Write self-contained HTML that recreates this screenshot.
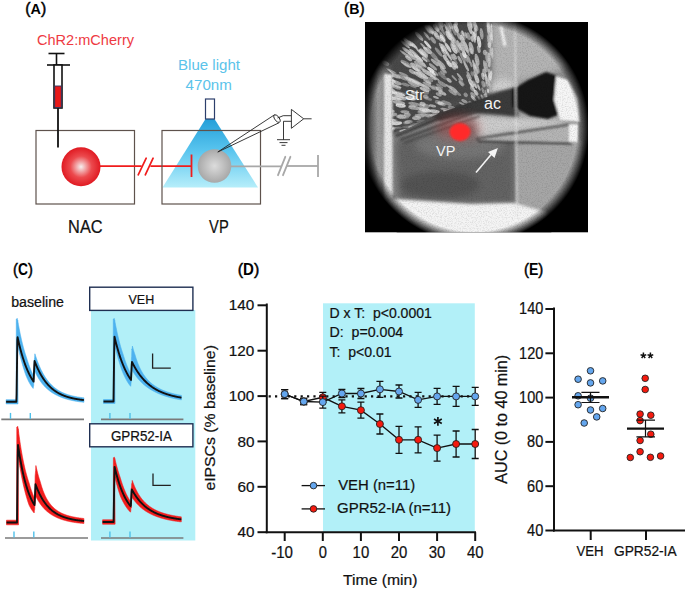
<!DOCTYPE html>
<html><head><meta charset="utf-8"><style>
html,body{margin:0;padding:0;background:#fff;}
body{width:685px;height:590px;overflow:hidden;}
svg{display:block;}
text{font-family:"Liberation Sans", sans-serif;}
</style></head><body>
<svg width="685" height="590" viewBox="0 0 685 590">
<defs>
<radialGradient id="gred" cx="50%" cy="50%" r="50%">
<stop offset="0" stop-color="#f6f0f0"/><stop offset="0.55" stop-color="#ec4a4e"/><stop offset="1" stop-color="#e01a22"/>
</radialGradient>
<radialGradient id="ggray" cx="50%" cy="50%" r="50%">
<stop offset="0" stop-color="#dcdcdc"/><stop offset="1" stop-color="#a8a8a8"/>
</radialGradient>
<linearGradient id="gcone" x1="0" y1="0" x2="0" y2="1">
<stop offset="0" stop-color="#249fd9"/><stop offset="0.45" stop-color="#58c4ee"/><stop offset="1" stop-color="#b6eefa"/>
</linearGradient>
</defs>
<rect width="685" height="590" fill="#fff"/>

<text x="25.3" y="14.2" font-size="15.5" font-weight="bold" textLength="21" lengthAdjust="spacingAndGlyphs"><tspan font-size="17" font-weight="normal" stroke="#000" stroke-width="0.5">(</tspan>A<tspan font-size="17" font-weight="normal" stroke="#000" stroke-width="0.5">)</tspan></text>
<text x="37" y="44.7" font-size="14.5" fill="#ee3a42" textLength="97" lengthAdjust="spacingAndGlyphs">ChR2:mCherry</text>
<g stroke="#111" stroke-width="1.6" fill="none"><line x1="48.5" y1="53.5" x2="64.5" y2="53.5"/><line x1="56.5" y1="53.5" x2="56.5" y2="65"/><line x1="47" y1="65" x2="70" y2="65"/><rect x="54" y="65" width="8" height="43" fill="#fff"/></g>
<rect x="54.7" y="86" width="6.6" height="21.5" fill="#e81818" stroke="#2c3560" stroke-width="0.9"/>
<rect x="36" y="130.5" width="98.5" height="73.5" fill="none" stroke="#5e524c" stroke-width="1.2"/>
<line x1="58" y1="108" x2="58" y2="147.5" stroke="#111" stroke-width="1.8"/>
<polygon points="205.5,119 214.5,119 258,187.5 162.5,187.5" fill="url(#gcone)"/>
<line x1="100" y1="166.2" x2="141.6" y2="166.2" stroke="#f01c1c" stroke-width="1.7"/>
<line x1="150.4" y1="166.2" x2="191.5" y2="166.2" stroke="#f01c1c" stroke-width="1.7"/>
<g stroke="#f01c1c" stroke-width="1.7" stroke-linecap="round"><line x1="138.2" y1="174.8" x2="146.2" y2="158.2"/><line x1="145.3" y1="174.8" x2="153.1" y2="158.2"/></g>
<circle cx="81" cy="166.8" r="19.5" fill="url(#gred)"/>
<text x="68.1" y="232.7" font-size="17.5" fill="#111" stroke="#111" stroke-width="0.22" textLength="34.5" lengthAdjust="spacingAndGlyphs">NAC</text>
<rect x="162" y="130.5" width="98.5" height="73.5" fill="none" stroke="#5e524c" stroke-width="1.2"/>
<rect x="205.5" y="99" width="9" height="20" fill="#fff" stroke="#2d3f6c" stroke-width="1.2"/>
<text x="178" y="69.8" font-size="15" fill="#5bc3ea" textLength="62" lengthAdjust="spacingAndGlyphs">Blue light</text>
<text x="185.6" y="90.1" font-size="15" fill="#5bc3ea" textLength="46.3" lengthAdjust="spacingAndGlyphs">470nm</text>
<line x1="191.5" y1="154.5" x2="191.5" y2="177" stroke="#f01c1c" stroke-width="1.8"/>
<line x1="214" y1="166.3" x2="281.5" y2="166.3" stroke="#a8a8a8" stroke-width="1.8"/>
<line x1="287" y1="166" x2="318" y2="166" stroke="#a8a8a8" stroke-width="1.8"/>
<g stroke="#a8a8a8" stroke-width="1.8" stroke-linecap="round"><line x1="278" y1="175.2" x2="285.3" y2="156.8"/><line x1="283" y1="175.2" x2="290.4" y2="156.8"/></g>
<line x1="318" y1="155" x2="318" y2="177" stroke="#a8a8a8" stroke-width="1.8"/>
<circle cx="214.5" cy="166" r="16.8" fill="url(#ggray)"/>
<g stroke="#222" stroke-width="0.9" fill="none"><polyline points="274.8,114.6 217.8,152 279.2,122.7"/><ellipse cx="277" cy="118.6" rx="2.2" ry="4.4" transform="rotate(-35 277 118.6)" fill="#fff"/><polyline points="277.5,118 283.2,115.7 291.4,115.7"/><polygon points="291.4,109.4 303.7,118.8 291.4,128.3" fill="#fff"/><line x1="303.7" y1="118.8" x2="311.6" y2="118.8"/><polyline points="291.4,121.3 283.5,121.3 283.5,139.7"/><line x1="277" y1="139.7" x2="290" y2="139.7"/><line x1="279.5" y1="142.6" x2="287.5" y2="142.6"/><line x1="281.5" y1="145.3" x2="285.5" y2="145.3"/></g>
<text x="209.1" y="232.7" font-size="17.5" fill="#111" stroke="#111" stroke-width="0.22" textLength="19.6" lengthAdjust="spacingAndGlyphs">VP</text>
<text x="344" y="14.2" font-size="15.5" font-weight="bold" textLength="20.6" lengthAdjust="spacingAndGlyphs"><tspan font-size="17" font-weight="normal" stroke="#000" stroke-width="0.5">(</tspan>B<tspan font-size="17" font-weight="normal" stroke="#000" stroke-width="0.5">)</tspan></text>
<defs>
<clipPath id="cB"><rect x="365" y="22" width="223" height="210.3"/></clipPath>
<clipPath id="cCirc"><circle cx="474" cy="128" r="115"/></clipPath>
<radialGradient id="vign" cx="474" cy="128" r="115" gradientUnits="userSpaceOnUse">
<stop offset="0.9" stop-color="#000" stop-opacity="0"/>
<stop offset="1" stop-color="#000" stop-opacity="1"/>
</radialGradient>
<linearGradient id="lfade" x1="365" y1="0" x2="378" y2="0" gradientUnits="userSpaceOnUse">
<stop offset="0" stop-color="#000" stop-opacity="0.75"/><stop offset="1" stop-color="#000" stop-opacity="0"/>
</linearGradient>
<linearGradient id="tfade" x1="0" y1="22" x2="0" y2="70" gradientUnits="userSpaceOnUse">
<stop offset="0" stop-color="#000" stop-opacity="0.5"/><stop offset="1" stop-color="#000" stop-opacity="0"/>
</linearGradient>
<filter id="bl1" x="-20%" y="-20%" width="140%" height="140%"><feGaussianBlur stdDeviation="1.0"/></filter>
<filter id="bl05" x="-20%" y="-20%" width="140%" height="140%"><feGaussianBlur stdDeviation="0.6"/></filter>
<filter id="bl2" x="-20%" y="-20%" width="140%" height="140%"><feGaussianBlur stdDeviation="1.8"/></filter>
<filter id="bl3" x="-20%" y="-20%" width="140%" height="140%"><feGaussianBlur stdDeviation="3.5"/></filter>
<filter id="bl6" x="-30%" y="-30%" width="160%" height="160%"><feGaussianBlur stdDeviation="6"/></filter>
<filter id="grain" x="0" y="0" width="100%" height="100%">
<feTurbulence type="fractalNoise" baseFrequency="0.8" numOctaves="2" seed="5"/>
<feColorMatrix type="matrix" values="0 0 0 0 0  0 0 0 0 0  0 0 0 0 0  0 0 0 -2.2 1.25"/>
</filter>
<clipPath id="cStr"><polygon points="366,22 492,22 494,62 490,96 440,113 398,133 392,135 392,74 380,62 366,62"/></clipPath>
</defs>
<rect x="365" y="22" width="223" height="210.3" fill="#000"/>
<g clip-path="url(#cB)">
<g clip-path="url(#cCirc)">
<rect x="355" y="10" width="240" height="230" fill="#8a8a8a"/>
<g filter="url(#bl3)">
<polygon points="360,10 492,10 494,62 488,96 440,113 398,133 360,142" fill="#484848"/>
<polygon points="490,10 560,10 580,60 556,72 518,82 492,96" fill="#b4b4b4"/>
<ellipse cx="503" cy="88" rx="14" ry="9" fill="#d0d0d0"/>
<polygon points="395,140 445,124 478,126 515,130 515,204 470,204 398,200" fill="#646464"/>
<ellipse cx="460" cy="145" rx="45" ry="14" fill="#767676"/>
<ellipse cx="440" cy="185" rx="40" ry="14" fill="#525252"/>
<rect x="360" y="64" width="26" height="146" fill="#9a9a9a"/>
<polygon points="474,114 515,116 560,118 572,124 480,138" fill="#cccccc"/>
</g>
<g filter="url(#bl2)">
<polygon points="430,114 474,99 500,91 516,87 518,117 500,115 474,113 440,121" fill="#3a3a3a"/>
<polygon points="516,145 582,140 582,215 546,212 533,208.6 516,204" fill="#a6a6a6"/>
<polygon points="380,198 470,204 513,203 533,208.6 546,212 570,240 380,240" fill="#f4f4f4"/>
</g>

<g clip-path="url(#cStr)"><g filter="url(#bl05)">
<ellipse cx="396.5" cy="87.3" rx="4.8" ry="1.7" transform="rotate(-162 396.5 87.3)" fill="rgb(183,183,183)" opacity="0.73"/>
<ellipse cx="443.5" cy="131.1" rx="4.1" ry="1.6" transform="rotate(165 443.5 131.1)" fill="rgb(235,235,235)" opacity="0.54"/>
<ellipse cx="435.2" cy="88.0" rx="4.1" ry="1.9" transform="rotate(-152 435.2 88.0)" fill="rgb(194,194,194)" opacity="0.55"/>
<ellipse cx="477.1" cy="84.8" rx="4.6" ry="1.7" transform="rotate(-114 477.1 84.8)" fill="rgb(180,180,180)" opacity="0.48"/>
<ellipse cx="476.8" cy="78.7" rx="4.7" ry="2.0" transform="rotate(-111 476.8 78.7)" fill="rgb(229,229,229)" opacity="0.77"/>
<ellipse cx="416.6" cy="118.1" rx="4.5" ry="2.0" transform="rotate(180 416.6 118.1)" fill="rgb(187,187,187)" opacity="0.85"/>
<ellipse cx="399.0" cy="102.6" rx="6.4" ry="1.9" transform="rotate(-171 399.0 102.6)" fill="rgb(224,224,224)" opacity="0.64"/>
<ellipse cx="439.5" cy="86.1" rx="4.1" ry="1.3" transform="rotate(-149 439.5 86.1)" fill="rgb(178,178,178)" opacity="0.60"/>
<ellipse cx="475.6" cy="140.9" rx="4.2" ry="1.2" transform="rotate(126 475.6 140.9)" fill="rgb(188,188,188)" opacity="0.84"/>
<ellipse cx="457.4" cy="47.3" rx="6.2" ry="1.6" transform="rotate(-116 457.4 47.3)" fill="rgb(183,183,183)" opacity="0.58"/>
<ellipse cx="427.7" cy="98.7" rx="4.5" ry="1.4" transform="rotate(-163 427.7 98.7)" fill="rgb(194,194,194)" opacity="0.48"/>
<ellipse cx="419.1" cy="36.3" rx="6.0" ry="1.8" transform="rotate(-132 419.1 36.3)" fill="rgb(217,217,217)" opacity="0.62"/>
<ellipse cx="436.5" cy="132.6" rx="3.5" ry="1.3" transform="rotate(165 436.5 132.6)" fill="rgb(175,175,175)" opacity="0.47"/>
<ellipse cx="375.9" cy="94.0" rx="3.5" ry="1.2" transform="rotate(-168 375.9 94.0)" fill="rgb(208,208,208)" opacity="0.63"/>
<ellipse cx="477.1" cy="59.7" rx="6.1" ry="2.0" transform="rotate(-104 477.1 59.7)" fill="rgb(233,233,233)" opacity="0.62"/>
<ellipse cx="477.3" cy="68.3" rx="5.5" ry="1.7" transform="rotate(-106 477.3 68.3)" fill="rgb(239,239,239)" opacity="0.50"/>
<ellipse cx="400.7" cy="98.1" rx="6.1" ry="2.0" transform="rotate(-168 400.7 98.1)" fill="rgb(208,208,208)" opacity="0.65"/>
<ellipse cx="432.7" cy="87.8" rx="2.7" ry="1.5" transform="rotate(-153 432.7 87.8)" fill="rgb(177,177,177)" opacity="0.71"/>
<ellipse cx="414.2" cy="92.7" rx="3.4" ry="1.7" transform="rotate(-162 414.2 92.7)" fill="rgb(220,220,220)" opacity="0.60"/>
<ellipse cx="452.9" cy="64.3" rx="5.3" ry="1.8" transform="rotate(-126 452.9 64.3)" fill="rgb(182,182,182)" opacity="0.46"/>
<ellipse cx="488.2" cy="24.6" rx="4.6" ry="1.7" transform="rotate(-92 488.2 24.6)" fill="rgb(215,215,215)" opacity="0.58"/>
<ellipse cx="463.0" cy="123.3" rx="3.0" ry="1.9" transform="rotate(170 463.0 123.3)" fill="rgb(178,178,178)" opacity="0.50"/>
<ellipse cx="490.3" cy="104.0" rx="2.3" ry="1.6" transform="rotate(-97 490.3 104.0)" fill="rgb(209,209,209)" opacity="0.74"/>
<ellipse cx="421.7" cy="105.8" rx="3.1" ry="1.4" transform="rotate(-170 421.7 105.8)" fill="rgb(203,203,203)" opacity="0.60"/>
<ellipse cx="422.1" cy="124.7" rx="3.4" ry="1.4" transform="rotate(175 422.1 124.7)" fill="rgb(232,232,232)" opacity="0.74"/>
<ellipse cx="400.6" cy="116.4" rx="3.2" ry="2.1" transform="rotate(-179 400.6 116.4)" fill="rgb(198,198,198)" opacity="0.59"/>
<ellipse cx="476.6" cy="62.8" rx="5.5" ry="1.1" transform="rotate(-106 476.6 62.8)" fill="rgb(191,191,191)" opacity="0.73"/>
<ellipse cx="419.9" cy="84.2" rx="6.3" ry="1.5" transform="rotate(-155 419.9 84.2)" fill="rgb(212,212,212)" opacity="0.74"/>
<ellipse cx="419.7" cy="71.1" rx="6.7" ry="1.2" transform="rotate(-147 419.7 71.1)" fill="rgb(240,240,240)" opacity="0.45"/>
<ellipse cx="421.6" cy="136.0" rx="6.3" ry="1.2" transform="rotate(166 421.6 136.0)" fill="rgb(211,211,211)" opacity="0.79"/>
<ellipse cx="435.6" cy="128.8" rx="5.6" ry="1.9" transform="rotate(169 435.6 128.8)" fill="rgb(190,190,190)" opacity="0.89"/>
<ellipse cx="469.7" cy="27.4" rx="6.9" ry="1.8" transform="rotate(-104 469.7 27.4)" fill="rgb(230,230,230)" opacity="0.87"/>
<ellipse cx="439.9" cy="23.6" rx="6.6" ry="1.2" transform="rotate(-119 439.9 23.6)" fill="rgb(177,177,177)" opacity="0.58"/>
<ellipse cx="433.2" cy="71.7" rx="6.5" ry="1.7" transform="rotate(-142 433.2 71.7)" fill="rgb(207,207,207)" opacity="0.60"/>
<ellipse cx="490.4" cy="86.9" rx="4.7" ry="1.1" transform="rotate(-93 490.4 86.9)" fill="rgb(190,190,190)" opacity="0.55"/>
<ellipse cx="434.4" cy="120.0" rx="3.2" ry="1.9" transform="rotate(178 434.4 120.0)" fill="rgb(191,191,191)" opacity="0.86"/>
<ellipse cx="471.4" cy="22.9" rx="5.8" ry="1.9" transform="rotate(-102 471.4 22.9)" fill="rgb(209,209,209)" opacity="0.47"/>
<ellipse cx="397.8" cy="96.2" rx="5.3" ry="1.1" transform="rotate(-167 397.8 96.2)" fill="rgb(175,175,175)" opacity="0.60"/>
<ellipse cx="475.7" cy="115.0" rx="2.1" ry="1.1" transform="rotate(-170 475.7 115.0)" fill="rgb(179,179,179)" opacity="0.67"/>
<ellipse cx="475.4" cy="32.3" rx="5.0" ry="1.3" transform="rotate(-101 475.4 32.3)" fill="rgb(219,219,219)" opacity="0.59"/>
<ellipse cx="415.4" cy="68.8" rx="4.3" ry="1.3" transform="rotate(-147 415.4 68.8)" fill="rgb(229,229,229)" opacity="0.89"/>
<ellipse cx="381.8" cy="88.7" rx="6.7" ry="1.4" transform="rotate(-165 381.8 88.7)" fill="rgb(197,197,197)" opacity="0.49"/>
<ellipse cx="449.2" cy="87.0" rx="4.7" ry="1.0" transform="rotate(-144 449.2 87.0)" fill="rgb(181,181,181)" opacity="0.85"/>
<ellipse cx="413.7" cy="81.5" rx="5.9" ry="1.5" transform="rotate(-155 413.7 81.5)" fill="rgb(233,233,233)" opacity="0.76"/>
<ellipse cx="400.6" cy="92.8" rx="6.5" ry="1.2" transform="rotate(-165 400.6 92.8)" fill="rgb(178,178,178)" opacity="0.51"/>
<ellipse cx="485.9" cy="66.9" rx="5.6" ry="1.9" transform="rotate(-97 485.9 66.9)" fill="rgb(234,234,234)" opacity="0.57"/>
<ellipse cx="454.4" cy="134.7" rx="4.7" ry="1.9" transform="rotate(156 454.4 134.7)" fill="rgb(223,223,223)" opacity="0.69"/>
<ellipse cx="451.4" cy="110.0" rx="4.2" ry="1.1" transform="rotate(-169 451.4 110.0)" fill="rgb(175,175,175)" opacity="0.71"/>
<ellipse cx="426.6" cy="50.3" rx="4.7" ry="1.6" transform="rotate(-134 426.6 50.3)" fill="rgb(223,223,223)" opacity="0.70"/>
<ellipse cx="473.7" cy="36.6" rx="6.3" ry="1.7" transform="rotate(-103 473.7 36.6)" fill="rgb(211,211,211)" opacity="0.83"/>
<ellipse cx="440.1" cy="117.8" rx="2.6" ry="1.8" transform="rotate(-180 440.1 117.8)" fill="rgb(205,205,205)" opacity="0.68"/>
<ellipse cx="379.7" cy="111.9" rx="7.6" ry="1.1" transform="rotate(-177 379.7 111.9)" fill="rgb(198,198,198)" opacity="0.60"/>
<ellipse cx="472.0" cy="51.1" rx="3.4" ry="1.3" transform="rotate(-107 472.0 51.1)" fill="rgb(225,225,225)" opacity="0.73"/>
<ellipse cx="398.4" cy="93.9" rx="7.2" ry="1.6" transform="rotate(-166 398.4 93.9)" fill="rgb(223,223,223)" opacity="0.88"/>
<ellipse cx="430.0" cy="138.8" rx="4.2" ry="1.8" transform="rotate(161 430.0 138.8)" fill="rgb(236,236,236)" opacity="0.52"/>
<ellipse cx="386.0" cy="70.1" rx="7.5" ry="1.2" transform="rotate(-156 386.0 70.1)" fill="rgb(236,236,236)" opacity="0.67"/>
<ellipse cx="483.3" cy="84.1" rx="3.6" ry="1.8" transform="rotate(-104 483.3 84.1)" fill="rgb(209,209,209)" opacity="0.53"/>
<ellipse cx="462.3" cy="39.6" rx="5.0" ry="2.0" transform="rotate(-111 462.3 39.6)" fill="rgb(212,212,212)" opacity="0.83"/>
<ellipse cx="451.9" cy="124.6" rx="4.2" ry="1.6" transform="rotate(171 451.9 124.6)" fill="rgb(202,202,202)" opacity="0.89"/>
<ellipse cx="405.3" cy="54.2" rx="6.9" ry="1.2" transform="rotate(-144 405.3 54.2)" fill="rgb(205,205,205)" opacity="0.71"/>
<ellipse cx="407.2" cy="114.9" rx="3.5" ry="2.1" transform="rotate(-178 407.2 114.9)" fill="rgb(201,201,201)" opacity="0.67"/>
<ellipse cx="425.9" cy="122.2" rx="5.7" ry="1.6" transform="rotate(176 425.9 122.2)" fill="rgb(184,184,184)" opacity="0.67"/>
<ellipse cx="475.7" cy="70.0" rx="5.0" ry="2.1" transform="rotate(-109 475.7 70.0)" fill="rgb(204,204,204)" opacity="0.66"/>
<ellipse cx="480.0" cy="99.8" rx="4.3" ry="1.1" transform="rotate(-123 480.0 99.8)" fill="rgb(207,207,207)" opacity="0.55"/>
<ellipse cx="456.2" cy="125.0" rx="5.1" ry="1.3" transform="rotate(169 456.2 125.0)" fill="rgb(215,215,215)" opacity="0.84"/>
<ellipse cx="468.3" cy="36.2" rx="4.0" ry="2.0" transform="rotate(-106 468.3 36.2)" fill="rgb(232,232,232)" opacity="0.47"/>
<ellipse cx="440.3" cy="103.1" rx="2.5" ry="1.4" transform="rotate(-164 440.3 103.1)" fill="rgb(237,237,237)" opacity="0.65"/>
<ellipse cx="376.0" cy="99.3" rx="6.9" ry="1.5" transform="rotate(-171 376.0 99.3)" fill="rgb(215,215,215)" opacity="0.51"/>
<ellipse cx="451.2" cy="35.5" rx="6.8" ry="2.0" transform="rotate(-116 451.2 35.5)" fill="rgb(222,222,222)" opacity="0.49"/>
<ellipse cx="452.8" cy="66.2" rx="4.3" ry="1.7" transform="rotate(-127 452.8 66.2)" fill="rgb(208,208,208)" opacity="0.75"/>
<ellipse cx="379.7" cy="135.3" rx="4.9" ry="1.6" transform="rotate(171 379.7 135.3)" fill="rgb(238,238,238)" opacity="0.69"/>
<ellipse cx="431.1" cy="29.1" rx="4.6" ry="1.8" transform="rotate(-124 431.1 29.1)" fill="rgb(194,194,194)" opacity="0.78"/>
<ellipse cx="388.9" cy="128.8" rx="6.1" ry="1.1" transform="rotate(174 388.9 128.8)" fill="rgb(193,193,193)" opacity="0.87"/>
<ellipse cx="483.9" cy="99.4" rx="3.9" ry="1.5" transform="rotate(-114 483.9 99.4)" fill="rgb(198,198,198)" opacity="0.59"/>
<ellipse cx="424.6" cy="59.5" rx="3.7" ry="1.1" transform="rotate(-139 424.6 59.5)" fill="rgb(225,225,225)" opacity="0.77"/>
<ellipse cx="412.0" cy="53.9" rx="4.9" ry="2.0" transform="rotate(-141 412.0 53.9)" fill="rgb(239,239,239)" opacity="0.47"/>
<ellipse cx="400.7" cy="105.5" rx="5.2" ry="2.0" transform="rotate(-172 400.7 105.5)" fill="rgb(232,232,232)" opacity="0.88"/>
<ellipse cx="435.3" cy="114.6" rx="3.8" ry="1.9" transform="rotate(-177 435.3 114.6)" fill="rgb(209,209,209)" opacity="0.50"/>
<ellipse cx="441.5" cy="103.8" rx="4.4" ry="2.0" transform="rotate(-164 441.5 103.8)" fill="rgb(199,199,199)" opacity="0.50"/>
<ellipse cx="438.6" cy="102.4" rx="3.9" ry="2.1" transform="rotate(-164 438.6 102.4)" fill="rgb(193,193,193)" opacity="0.51"/>
<ellipse cx="476.0" cy="117.8" rx="3.5" ry="1.2" transform="rotate(-179 476.0 117.8)" fill="rgb(207,207,207)" opacity="0.53"/>
<ellipse cx="413.3" cy="57.2" rx="6.8" ry="1.5" transform="rotate(-142 413.3 57.2)" fill="rgb(224,224,224)" opacity="0.63"/>
<ellipse cx="406.4" cy="130.7" rx="4.2" ry="1.5" transform="rotate(172 406.4 130.7)" fill="rgb(213,213,213)" opacity="0.69"/>
<ellipse cx="480.6" cy="102.1" rx="2.1" ry="1.2" transform="rotate(-126 480.6 102.1)" fill="rgb(188,188,188)" opacity="0.74"/>
<ellipse cx="464.6" cy="101.4" rx="3.7" ry="1.6" transform="rotate(-149 464.6 101.4)" fill="rgb(199,199,199)" opacity="0.66"/>
<ellipse cx="466.1" cy="47.4" rx="6.0" ry="2.0" transform="rotate(-110 466.1 47.4)" fill="rgb(189,189,189)" opacity="0.88"/>
<ellipse cx="438.4" cy="137.1" rx="5.7" ry="1.1" transform="rotate(160 438.4 137.1)" fill="rgb(181,181,181)" opacity="0.81"/>
<ellipse cx="369.3" cy="96.2" rx="5.9" ry="1.5" transform="rotate(-170 369.3 96.2)" fill="rgb(218,218,218)" opacity="0.46"/>
<ellipse cx="407.4" cy="126.5" rx="5.8" ry="1.1" transform="rotate(174 407.4 126.5)" fill="rgb(179,179,179)" opacity="0.84"/>
<ellipse cx="457.6" cy="110.8" rx="3.3" ry="1.9" transform="rotate(-168 457.6 110.8)" fill="rgb(200,200,200)" opacity="0.87"/>
<ellipse cx="421.9" cy="112.8" rx="4.6" ry="1.1" transform="rotate(-176 421.9 112.8)" fill="rgb(184,184,184)" opacity="0.47"/>
<ellipse cx="474.2" cy="106.7" rx="3.2" ry="1.5" transform="rotate(-148 474.2 106.7)" fill="rgb(229,229,229)" opacity="0.48"/>
<ellipse cx="392.7" cy="80.7" rx="3.3" ry="1.5" transform="rotate(-159 392.7 80.7)" fill="rgb(231,231,231)" opacity="0.76"/>
<ellipse cx="389.1" cy="129.9" rx="6.4" ry="1.4" transform="rotate(173 389.1 129.9)" fill="rgb(221,221,221)" opacity="0.62"/>
<ellipse cx="442.3" cy="48.9" rx="2.9" ry="1.2" transform="rotate(-126 442.3 48.9)" fill="rgb(193,193,193)" opacity="0.80"/>
<ellipse cx="475.5" cy="86.1" rx="2.8" ry="1.0" transform="rotate(-117 475.5 86.1)" fill="rgb(239,239,239)" opacity="0.71"/>
<ellipse cx="428.8" cy="29.2" rx="3.4" ry="1.5" transform="rotate(-125 428.8 29.2)" fill="rgb(181,181,181)" opacity="0.63"/>
<ellipse cx="429.1" cy="131.1" rx="5.9" ry="1.3" transform="rotate(168 429.1 131.1)" fill="rgb(199,199,199)" opacity="0.63"/>
<ellipse cx="387.1" cy="96.7" rx="4.8" ry="1.1" transform="rotate(-169 387.1 96.7)" fill="rgb(212,212,212)" opacity="0.47"/>
<ellipse cx="401.2" cy="116.5" rx="5.0" ry="2.0" transform="rotate(-179 401.2 116.5)" fill="rgb(206,206,206)" opacity="0.59"/>
<ellipse cx="437.8" cy="25.6" rx="4.8" ry="2.1" transform="rotate(-120 437.8 25.6)" fill="rgb(182,182,182)" opacity="0.59"/>
<ellipse cx="453.3" cy="138.3" rx="4.3" ry="1.0" transform="rotate(152 453.3 138.3)" fill="rgb(186,186,186)" opacity="0.46"/>
<ellipse cx="427.7" cy="44.7" rx="5.3" ry="1.4" transform="rotate(-131 427.7 44.7)" fill="rgb(236,236,236)" opacity="0.85"/>
<ellipse cx="409.5" cy="79.4" rx="4.5" ry="1.7" transform="rotate(-155 409.5 79.4)" fill="rgb(225,225,225)" opacity="0.62"/>
<ellipse cx="474.8" cy="35.8" rx="4.5" ry="1.4" transform="rotate(-102 474.8 35.8)" fill="rgb(226,226,226)" opacity="0.76"/>
<ellipse cx="388.4" cy="110.8" rx="6.5" ry="1.9" transform="rotate(-176 388.4 110.8)" fill="rgb(198,198,198)" opacity="0.70"/>
<ellipse cx="412.4" cy="71.8" rx="4.0" ry="1.9" transform="rotate(-150 412.4 71.8)" fill="rgb(209,209,209)" opacity="0.67"/>
<ellipse cx="471.1" cy="82.8" rx="4.8" ry="2.0" transform="rotate(-121 471.1 82.8)" fill="rgb(237,237,237)" opacity="0.76"/>
<ellipse cx="462.2" cy="120.7" rx="2.4" ry="1.8" transform="rotate(175 462.2 120.7)" fill="rgb(215,215,215)" opacity="0.75"/>
<ellipse cx="396.4" cy="123.2" rx="5.9" ry="2.0" transform="rotate(177 396.4 123.2)" fill="rgb(232,232,232)" opacity="0.84"/>
<ellipse cx="425.7" cy="126.3" rx="5.1" ry="2.1" transform="rotate(173 425.7 126.3)" fill="rgb(199,199,199)" opacity="0.45"/>
<ellipse cx="417.1" cy="136.7" rx="3.2" ry="1.6" transform="rotate(166 417.1 136.7)" fill="rgb(185,185,185)" opacity="0.50"/>
<ellipse cx="471.2" cy="47.2" rx="5.4" ry="2.1" transform="rotate(-106 471.2 47.2)" fill="rgb(193,193,193)" opacity="0.87"/>
<ellipse cx="441.0" cy="23.4" rx="4.3" ry="2.1" transform="rotate(-118 441.0 23.4)" fill="rgb(240,240,240)" opacity="0.55"/>
<ellipse cx="419.7" cy="115.7" rx="5.1" ry="1.9" transform="rotate(-178 419.7 115.7)" fill="rgb(199,199,199)" opacity="0.69"/>
<ellipse cx="425.8" cy="96.7" rx="2.9" ry="1.9" transform="rotate(-162 425.8 96.7)" fill="rgb(187,187,187)" opacity="0.72"/>
<ellipse cx="391.5" cy="129.2" rx="3.5" ry="1.5" transform="rotate(174 391.5 129.2)" fill="rgb(188,188,188)" opacity="0.55"/>
<ellipse cx="448.2" cy="113.4" rx="5.2" ry="1.4" transform="rotate(-174 448.2 113.4)" fill="rgb(232,232,232)" opacity="0.72"/>
<ellipse cx="465.6" cy="57.0" rx="6.2" ry="1.5" transform="rotate(-113 465.6 57.0)" fill="rgb(189,189,189)" opacity="0.62"/>
<ellipse cx="435.0" cy="77.7" rx="5.5" ry="1.1" transform="rotate(-145 435.0 77.7)" fill="rgb(237,237,237)" opacity="0.61"/>
<ellipse cx="462.5" cy="132.9" rx="4.3" ry="1.4" transform="rotate(153 462.5 132.9)" fill="rgb(183,183,183)" opacity="0.80"/>
<ellipse cx="443.6" cy="47.7" rx="4.4" ry="2.1" transform="rotate(-125 443.6 47.7)" fill="rgb(230,230,230)" opacity="0.60"/>
<ellipse cx="422.2" cy="52.1" rx="4.5" ry="1.8" transform="rotate(-137 422.2 52.1)" fill="rgb(202,202,202)" opacity="0.54"/>
<ellipse cx="478.0" cy="140.4" rx="3.9" ry="2.0" transform="rotate(122 478.0 140.4)" fill="rgb(228,228,228)" opacity="0.69"/>
<ellipse cx="413.1" cy="44.9" rx="6.1" ry="1.5" transform="rotate(-137 413.1 44.9)" fill="rgb(227,227,227)" opacity="0.85"/>
<ellipse cx="426.1" cy="92.5" rx="2.9" ry="2.1" transform="rotate(-159 426.1 92.5)" fill="rgb(187,187,187)" opacity="0.46"/>
<ellipse cx="430.5" cy="29.4" rx="5.4" ry="1.2" transform="rotate(-125 430.5 29.4)" fill="rgb(237,237,237)" opacity="0.54"/>
<ellipse cx="421.3" cy="63.4" rx="6.1" ry="1.8" transform="rotate(-142 421.3 63.4)" fill="rgb(188,188,188)" opacity="0.58"/>
<ellipse cx="422.8" cy="131.0" rx="4.4" ry="1.2" transform="rotate(169 422.8 131.0)" fill="rgb(211,211,211)" opacity="0.67"/>
<ellipse cx="491.0" cy="139.6" rx="4.6" ry="1.4" transform="rotate(93 491.0 139.6)" fill="rgb(214,214,214)" opacity="0.52"/>
<ellipse cx="486.3" cy="78.9" rx="5.5" ry="1.2" transform="rotate(-98 486.3 78.9)" fill="rgb(211,211,211)" opacity="0.88"/>
<ellipse cx="402.5" cy="77.6" rx="7.0" ry="1.9" transform="rotate(-156 402.5 77.6)" fill="rgb(206,206,206)" opacity="0.58"/>
<ellipse cx="485.1" cy="84.3" rx="2.3" ry="1.7" transform="rotate(-102 485.1 84.3)" fill="rgb(177,177,177)" opacity="0.52"/>
<ellipse cx="392.1" cy="114.4" rx="5.2" ry="2.1" transform="rotate(-178 392.1 114.4)" fill="rgb(179,179,179)" opacity="0.80"/>
<ellipse cx="428.7" cy="50.6" rx="4.2" ry="2.0" transform="rotate(-133 428.7 50.6)" fill="rgb(187,187,187)" opacity="0.83"/>
<ellipse cx="423.6" cy="53.4" rx="5.9" ry="1.5" transform="rotate(-137 423.6 53.4)" fill="rgb(218,218,218)" opacity="0.78"/>
<ellipse cx="446.3" cy="103.0" rx="5.5" ry="1.9" transform="rotate(-162 446.3 103.0)" fill="rgb(192,192,192)" opacity="0.56"/>
<ellipse cx="461.2" cy="123.0" rx="3.4" ry="1.8" transform="rotate(171 461.2 123.0)" fill="rgb(192,192,192)" opacity="0.60"/>
<ellipse cx="368.2" cy="99.2" rx="7.9" ry="2.0" transform="rotate(-171 368.2 99.2)" fill="rgb(240,240,240)" opacity="0.66"/>
<ellipse cx="419.0" cy="84.2" rx="3.6" ry="1.2" transform="rotate(-155 419.0 84.2)" fill="rgb(188,188,188)" opacity="0.76"/>
<ellipse cx="418.2" cy="64.2" rx="4.9" ry="1.9" transform="rotate(-144 418.2 64.2)" fill="rgb(194,194,194)" opacity="0.65"/>
<ellipse cx="439.9" cy="38.8" rx="3.2" ry="1.5" transform="rotate(-123 439.9 38.8)" fill="rgb(233,233,233)" opacity="0.55"/>
<ellipse cx="485.2" cy="95.5" rx="2.2" ry="1.6" transform="rotate(-107 485.2 95.5)" fill="rgb(237,237,237)" opacity="0.70"/>
<ellipse cx="382.0" cy="116.3" rx="6.7" ry="1.3" transform="rotate(-179 382.0 116.3)" fill="rgb(184,184,184)" opacity="0.65"/>
<ellipse cx="413.5" cy="83.8" rx="6.6" ry="2.1" transform="rotate(-156 413.5 83.8)" fill="rgb(199,199,199)" opacity="0.74"/>
<ellipse cx="405.9" cy="63.5" rx="6.1" ry="2.0" transform="rotate(-148 405.9 63.5)" fill="rgb(181,181,181)" opacity="0.63"/>
<ellipse cx="400.7" cy="136.0" rx="7.1" ry="1.3" transform="rotate(169 400.7 136.0)" fill="rgb(211,211,211)" opacity="0.63"/>
<ellipse cx="418.9" cy="129.9" rx="4.7" ry="2.1" transform="rotate(171 418.9 129.9)" fill="rgb(189,189,189)" opacity="0.78"/>
<ellipse cx="461.1" cy="122.6" rx="4.1" ry="1.9" transform="rotate(172 461.1 122.6)" fill="rgb(211,211,211)" opacity="0.45"/>
<ellipse cx="490.7" cy="105.0" rx="3.1" ry="2.1" transform="rotate(-96 490.7 105.0)" fill="rgb(212,212,212)" opacity="0.66"/>
<ellipse cx="435.9" cy="27.7" rx="4.3" ry="2.1" transform="rotate(-122 435.9 27.7)" fill="rgb(197,197,197)" opacity="0.51"/>
<ellipse cx="454.3" cy="78.1" rx="3.9" ry="1.0" transform="rotate(-133 454.3 78.1)" fill="rgb(198,198,198)" opacity="0.63"/>
<ellipse cx="463.2" cy="43.1" rx="3.6" ry="1.9" transform="rotate(-111 463.2 43.1)" fill="rgb(181,181,181)" opacity="0.84"/>
<ellipse cx="433.1" cy="40.2" rx="4.0" ry="1.9" transform="rotate(-127 433.1 40.2)" fill="rgb(198,198,198)" opacity="0.64"/>
<ellipse cx="492.4" cy="55.7" rx="3.1" ry="1.2" transform="rotate(-90 492.4 55.7)" fill="rgb(220,220,220)" opacity="0.51"/>
<ellipse cx="486.1" cy="94.4" rx="4.8" ry="1.0" transform="rotate(-104 486.1 94.4)" fill="rgb(193,193,193)" opacity="0.62"/>
<ellipse cx="491.4" cy="51.5" rx="4.0" ry="2.0" transform="rotate(-90 491.4 51.5)" fill="rgb(215,215,215)" opacity="0.67"/>
<ellipse cx="426.5" cy="110.7" rx="4.6" ry="1.9" transform="rotate(-174 426.5 110.7)" fill="rgb(227,227,227)" opacity="0.65"/>
<ellipse cx="425.4" cy="86.6" rx="4.5" ry="1.6" transform="rotate(-155 425.4 86.6)" fill="rgb(200,200,200)" opacity="0.82"/>
<ellipse cx="462.8" cy="57.5" rx="5.5" ry="1.8" transform="rotate(-116 462.8 57.5)" fill="rgb(196,196,196)" opacity="0.59"/>
<ellipse cx="406.6" cy="122.8" rx="3.5" ry="1.7" transform="rotate(177 406.6 122.8)" fill="rgb(197,197,197)" opacity="0.48"/>
<ellipse cx="477.3" cy="117.3" rx="4.7" ry="1.8" transform="rotate(-177 477.3 117.3)" fill="rgb(210,210,210)" opacity="0.69"/>
<ellipse cx="377.8" cy="86.8" rx="5.5" ry="1.2" transform="rotate(-165 377.8 86.8)" fill="rgb(216,216,216)" opacity="0.72"/>
<ellipse cx="424.4" cy="89.6" rx="5.2" ry="1.7" transform="rotate(-157 424.4 89.6)" fill="rgb(219,219,219)" opacity="0.77"/>
<ellipse cx="476.4" cy="122.2" rx="2.8" ry="2.1" transform="rotate(165 476.4 122.2)" fill="rgb(190,190,190)" opacity="0.57"/>
<ellipse cx="443.1" cy="48.6" rx="7.0" ry="1.8" transform="rotate(-125 443.1 48.6)" fill="rgb(230,230,230)" opacity="0.56"/>
<ellipse cx="489.8" cy="76.3" rx="3.9" ry="1.6" transform="rotate(-93 489.8 76.3)" fill="rgb(231,231,231)" opacity="0.84"/>
<ellipse cx="493.3" cy="28.2" rx="4.7" ry="1.6" transform="rotate(-89 493.3 28.2)" fill="rgb(212,212,212)" opacity="0.72"/>
<ellipse cx="373.6" cy="124.5" rx="5.2" ry="2.1" transform="rotate(177 373.6 124.5)" fill="rgb(202,202,202)" opacity="0.61"/>
<ellipse cx="381.1" cy="109.9" rx="5.1" ry="1.6" transform="rotate(-176 381.1 109.9)" fill="rgb(222,222,222)" opacity="0.46"/>
<ellipse cx="430.7" cy="69.9" rx="4.3" ry="1.7" transform="rotate(-142 430.7 69.9)" fill="rgb(238,238,238)" opacity="0.84"/>
<ellipse cx="413.5" cy="95.8" rx="3.4" ry="1.1" transform="rotate(-164 413.5 95.8)" fill="rgb(211,211,211)" opacity="0.59"/>
<ellipse cx="459.9" cy="59.7" rx="4.3" ry="1.4" transform="rotate(-119 459.9 59.7)" fill="rgb(202,202,202)" opacity="0.77"/>
<ellipse cx="422.5" cy="103.9" rx="3.2" ry="2.0" transform="rotate(-169 422.5 103.9)" fill="rgb(235,235,235)" opacity="0.62"/>
<ellipse cx="436.7" cy="36.1" rx="3.9" ry="2.0" transform="rotate(-124 436.7 36.1)" fill="rgb(219,219,219)" opacity="0.64"/>
<ellipse cx="415.0" cy="80.8" rx="7.0" ry="1.5" transform="rotate(-154 415.0 80.8)" fill="rgb(201,201,201)" opacity="0.51"/>
<ellipse cx="431.5" cy="73.9" rx="5.2" ry="1.7" transform="rotate(-144 431.5 73.9)" fill="rgb(187,187,187)" opacity="0.65"/>
<ellipse cx="448.0" cy="111.5" rx="5.3" ry="1.1" transform="rotate(-172 448.0 111.5)" fill="rgb(216,216,216)" opacity="0.84"/>
<ellipse cx="427.4" cy="72.7" rx="6.4" ry="1.9" transform="rotate(-145 427.4 72.7)" fill="rgb(228,228,228)" opacity="0.60"/>
<ellipse cx="478.8" cy="49.1" rx="4.0" ry="1.7" transform="rotate(-101 478.8 49.1)" fill="rgb(181,181,181)" opacity="0.88"/>
<ellipse cx="448.1" cy="25.2" rx="7.3" ry="1.6" transform="rotate(-115 448.1 25.2)" fill="rgb(185,185,185)" opacity="0.71"/>
<ellipse cx="389.0" cy="120.5" rx="6.9" ry="2.0" transform="rotate(179 389.0 120.5)" fill="rgb(219,219,219)" opacity="0.63"/>
<ellipse cx="491.7" cy="101.4" rx="3.4" ry="1.2" transform="rotate(-91 491.7 101.4)" fill="rgb(192,192,192)" opacity="0.58"/>
<ellipse cx="440.5" cy="65.7" rx="4.8" ry="1.3" transform="rotate(-135 440.5 65.7)" fill="rgb(201,201,201)" opacity="0.84"/>
<ellipse cx="423.2" cy="108.6" rx="6.0" ry="1.7" transform="rotate(-172 423.2 108.6)" fill="rgb(202,202,202)" opacity="0.67"/>
<ellipse cx="424.5" cy="133.4" rx="4.6" ry="1.9" transform="rotate(167 424.5 133.4)" fill="rgb(179,179,179)" opacity="0.59"/>
<ellipse cx="407.9" cy="51.6" rx="7.2" ry="1.7" transform="rotate(-142 407.9 51.6)" fill="rgb(205,205,205)" opacity="0.78"/>
<ellipse cx="417.4" cy="68.7" rx="3.7" ry="1.3" transform="rotate(-147 417.4 68.7)" fill="rgb(218,218,218)" opacity="0.57"/>
<ellipse cx="459.7" cy="46.9" rx="4.0" ry="1.2" transform="rotate(-114 459.7 46.9)" fill="rgb(236,236,236)" opacity="0.53"/>
<ellipse cx="455.6" cy="47.9" rx="5.5" ry="1.7" transform="rotate(-117 455.6 47.9)" fill="rgb(225,225,225)" opacity="0.53"/>
<ellipse cx="442.6" cy="72.9" rx="3.3" ry="1.3" transform="rotate(-138 442.6 72.9)" fill="rgb(185,185,185)" opacity="0.62"/>
<ellipse cx="466.7" cy="125.2" rx="3.6" ry="1.6" transform="rotate(164 466.7 125.2)" fill="rgb(228,228,228)" opacity="0.57"/>
<ellipse cx="453.8" cy="48.6" rx="6.1" ry="2.1" transform="rotate(-119 453.8 48.6)" fill="rgb(236,236,236)" opacity="0.61"/>
<ellipse cx="463.0" cy="35.8" rx="4.7" ry="2.0" transform="rotate(-109 463.0 35.8)" fill="rgb(216,216,216)" opacity="0.51"/>
<ellipse cx="379.8" cy="85.4" rx="7.4" ry="1.5" transform="rotate(-164 379.8 85.4)" fill="rgb(232,232,232)" opacity="0.69"/>
<ellipse cx="410.5" cy="98.2" rx="5.5" ry="1.8" transform="rotate(-166 410.5 98.2)" fill="rgb(213,213,213)" opacity="0.89"/>
<ellipse cx="440.8" cy="103.4" rx="3.5" ry="1.4" transform="rotate(-164 440.8 103.4)" fill="rgb(212,212,212)" opacity="0.63"/>
<ellipse cx="484.2" cy="72.8" rx="4.3" ry="1.8" transform="rotate(-100 484.2 72.8)" fill="rgb(222,222,222)" opacity="0.64"/>
<ellipse cx="438.6" cy="52.0" rx="5.8" ry="1.6" transform="rotate(-129 438.6 52.0)" fill="rgb(189,189,189)" opacity="0.62"/>
<ellipse cx="407.5" cy="41.5" rx="7.6" ry="1.5" transform="rotate(-138 407.5 41.5)" fill="rgb(234,234,234)" opacity="0.69"/>
<ellipse cx="391.1" cy="71.0" rx="6.0" ry="1.1" transform="rotate(-155 391.1 71.0)" fill="rgb(236,236,236)" opacity="0.47"/>
<ellipse cx="455.8" cy="41.9" rx="5.6" ry="1.1" transform="rotate(-115 455.8 41.9)" fill="rgb(190,190,190)" opacity="0.70"/>
<ellipse cx="484.2" cy="126.2" rx="3.3" ry="1.4" transform="rotate(134 484.2 126.2)" fill="rgb(210,210,210)" opacity="0.48"/>
<ellipse cx="453.6" cy="49.7" rx="3.9" ry="1.2" transform="rotate(-119 453.6 49.7)" fill="rgb(222,222,222)" opacity="0.50"/>
<ellipse cx="421.6" cy="53.5" rx="7.2" ry="1.2" transform="rotate(-138 421.6 53.5)" fill="rgb(240,240,240)" opacity="0.71"/>
<ellipse cx="487.3" cy="102.0" rx="2.7" ry="1.3" transform="rotate(-107 487.3 102.0)" fill="rgb(218,218,218)" opacity="0.61"/>
<ellipse cx="481.6" cy="33.8" rx="5.8" ry="1.8" transform="rotate(-97 481.6 33.8)" fill="rgb(233,233,233)" opacity="0.55"/>
<ellipse cx="472.0" cy="39.0" rx="3.1" ry="1.5" transform="rotate(-104 472.0 39.0)" fill="rgb(192,192,192)" opacity="0.90"/>
<ellipse cx="413.7" cy="126.4" rx="5.8" ry="1.6" transform="rotate(174 413.7 126.4)" fill="rgb(229,229,229)" opacity="0.76"/>
<ellipse cx="491.2" cy="73.6" rx="3.3" ry="1.3" transform="rotate(-91 491.2 73.6)" fill="rgb(194,194,194)" opacity="0.86"/>
<ellipse cx="448.0" cy="47.4" rx="6.0" ry="1.6" transform="rotate(-122 448.0 47.4)" fill="rgb(222,222,222)" opacity="0.88"/>
<ellipse cx="398.9" cy="97.4" rx="5.5" ry="2.1" transform="rotate(-168 398.9 97.4)" fill="rgb(190,190,190)" opacity="0.61"/>
<ellipse cx="386.3" cy="139.7" rx="6.6" ry="1.5" transform="rotate(168 386.3 139.7)" fill="rgb(194,194,194)" opacity="0.78"/>
<ellipse cx="470.3" cy="109.7" rx="2.8" ry="1.1" transform="rotate(-159 470.3 109.7)" fill="rgb(192,192,192)" opacity="0.49"/>
<ellipse cx="378.2" cy="105.7" rx="6.3" ry="1.6" transform="rotate(-174 378.2 105.7)" fill="rgb(231,231,231)" opacity="0.77"/>
<ellipse cx="399.7" cy="106.1" rx="3.1" ry="1.3" transform="rotate(-173 399.7 106.1)" fill="rgb(196,196,196)" opacity="0.76"/>
<ellipse cx="459.0" cy="122.1" rx="3.3" ry="1.0" transform="rotate(173 459.0 122.1)" fill="rgb(176,176,176)" opacity="0.55"/>
<ellipse cx="469.1" cy="75.4" rx="4.7" ry="1.4" transform="rotate(-118 469.1 75.4)" fill="rgb(232,232,232)" opacity="0.55"/>
<ellipse cx="416.2" cy="69.5" rx="7.1" ry="1.1" transform="rotate(-147 416.2 69.5)" fill="rgb(206,206,206)" opacity="0.75"/>
<ellipse cx="391.1" cy="90.3" rx="4.4" ry="1.8" transform="rotate(-165 391.1 90.3)" fill="rgb(201,201,201)" opacity="0.72"/>
<ellipse cx="432.8" cy="73.2" rx="4.0" ry="1.1" transform="rotate(-143 432.8 73.2)" fill="rgb(239,239,239)" opacity="0.81"/>
<ellipse cx="433.9" cy="56.1" rx="6.8" ry="2.0" transform="rotate(-133 433.9 56.1)" fill="rgb(191,191,191)" opacity="0.52"/>
<ellipse cx="405.5" cy="84.6" rx="4.0" ry="1.6" transform="rotate(-159 405.5 84.6)" fill="rgb(184,184,184)" opacity="0.58"/>
<ellipse cx="429.9" cy="79.6" rx="3.7" ry="2.0" transform="rotate(-148 429.9 79.6)" fill="rgb(176,176,176)" opacity="0.64"/>
<ellipse cx="368.9" cy="96.6" rx="3.8" ry="1.6" transform="rotate(-170 368.9 96.6)" fill="rgb(176,176,176)" opacity="0.67"/>
<ellipse cx="372.1" cy="103.0" rx="4.9" ry="1.5" transform="rotate(-173 372.1 103.0)" fill="rgb(214,214,214)" opacity="0.59"/>
<ellipse cx="468.6" cy="59.1" rx="4.7" ry="1.4" transform="rotate(-112 468.6 59.1)" fill="rgb(189,189,189)" opacity="0.74"/>
<ellipse cx="489.4" cy="45.0" rx="3.1" ry="1.8" transform="rotate(-92 489.4 45.0)" fill="rgb(240,240,240)" opacity="0.69"/>
<ellipse cx="489.1" cy="58.1" rx="5.7" ry="1.6" transform="rotate(-93 489.1 58.1)" fill="rgb(221,221,221)" opacity="0.67"/>
<ellipse cx="452.6" cy="133.1" rx="3.7" ry="1.8" transform="rotate(159 452.6 133.1)" fill="rgb(225,225,225)" opacity="0.70"/>
<ellipse cx="421.5" cy="63.2" rx="6.9" ry="1.4" transform="rotate(-142 421.5 63.2)" fill="rgb(208,208,208)" opacity="0.67"/>
<ellipse cx="466.7" cy="111.7" rx="2.7" ry="1.1" transform="rotate(-166 466.7 111.7)" fill="rgb(236,236,236)" opacity="0.57"/>
<ellipse cx="488.5" cy="79.2" rx="2.9" ry="1.4" transform="rotate(-95 488.5 79.2)" fill="rgb(205,205,205)" opacity="0.48"/>
<ellipse cx="493.7" cy="27.8" rx="4.7" ry="1.4" transform="rotate(-89 493.7 27.8)" fill="rgb(197,197,197)" opacity="0.59"/>
<ellipse cx="482.9" cy="76.3" rx="3.8" ry="1.5" transform="rotate(-102 482.9 76.3)" fill="rgb(223,223,223)" opacity="0.71"/>
<ellipse cx="459.8" cy="112.1" rx="3.3" ry="1.8" transform="rotate(-170 459.8 112.1)" fill="rgb(203,203,203)" opacity="0.57"/>
<ellipse cx="383.7" cy="127.5" rx="6.8" ry="1.0" transform="rotate(175 383.7 127.5)" fill="rgb(188,188,188)" opacity="0.64"/>
<ellipse cx="443.4" cy="70.1" rx="4.5" ry="1.6" transform="rotate(-135 443.4 70.1)" fill="rgb(200,200,200)" opacity="0.70"/>
<ellipse cx="426.7" cy="29.0" rx="5.9" ry="1.2" transform="rotate(-126 426.7 29.0)" fill="rgb(187,187,187)" opacity="0.46"/>
<ellipse cx="491.4" cy="38.5" rx="6.0" ry="2.0" transform="rotate(-90 491.4 38.5)" fill="rgb(202,202,202)" opacity="0.50"/>
<ellipse cx="487.2" cy="57.2" rx="5.7" ry="2.0" transform="rotate(-94 487.2 57.2)" fill="rgb(193,193,193)" opacity="0.65"/>
<ellipse cx="386.2" cy="104.9" rx="6.1" ry="1.5" transform="rotate(-173 386.2 104.9)" fill="rgb(240,240,240)" opacity="0.73"/>
<ellipse cx="484.8" cy="52.5" rx="2.7" ry="2.0" transform="rotate(-96 484.8 52.5)" fill="rgb(224,224,224)" opacity="0.59"/>
<ellipse cx="415.9" cy="124.5" rx="6.2" ry="1.4" transform="rotate(175 415.9 124.5)" fill="rgb(186,186,186)" opacity="0.78"/>
<ellipse cx="408.6" cy="58.4" rx="4.1" ry="1.6" transform="rotate(-144 408.6 58.4)" fill="rgb(225,225,225)" opacity="0.70"/>
<ellipse cx="470.5" cy="50.8" rx="3.3" ry="1.3" transform="rotate(-108 470.5 50.8)" fill="rgb(207,207,207)" opacity="0.71"/>
<ellipse cx="410.0" cy="56.9" rx="4.7" ry="1.2" transform="rotate(-143 410.0 56.9)" fill="rgb(189,189,189)" opacity="0.54"/>
<ellipse cx="424.1" cy="52.1" rx="5.4" ry="1.4" transform="rotate(-136 424.1 52.1)" fill="rgb(200,200,200)" opacity="0.71"/>
<ellipse cx="423.7" cy="46.5" rx="4.7" ry="1.1" transform="rotate(-134 423.7 46.5)" fill="rgb(226,226,226)" opacity="0.64"/>
<ellipse cx="457.6" cy="117.4" rx="4.7" ry="1.3" transform="rotate(-179 457.6 117.4)" fill="rgb(190,190,190)" opacity="0.79"/>
<ellipse cx="369.2" cy="126.6" rx="5.1" ry="1.2" transform="rotate(176 369.2 126.6)" fill="rgb(189,189,189)" opacity="0.60"/>
<ellipse cx="465.7" cy="94.9" rx="2.4" ry="2.0" transform="rotate(-139 465.7 94.9)" fill="rgb(177,177,177)" opacity="0.70"/>
<ellipse cx="428.3" cy="115.4" rx="4.3" ry="1.8" transform="rotate(-178 428.3 115.4)" fill="rgb(190,190,190)" opacity="0.67"/>
<ellipse cx="466.2" cy="66.3" rx="5.6" ry="1.3" transform="rotate(-117 466.2 66.3)" fill="rgb(200,200,200)" opacity="0.83"/>
<ellipse cx="474.3" cy="67.0" rx="3.8" ry="1.4" transform="rotate(-109 474.3 67.0)" fill="rgb(217,217,217)" opacity="0.45"/>
<ellipse cx="427.3" cy="81.5" rx="4.5" ry="1.5" transform="rotate(-151 427.3 81.5)" fill="rgb(198,198,198)" opacity="0.77"/>
<ellipse cx="395.9" cy="85.8" rx="6.1" ry="1.2" transform="rotate(-161 395.9 85.8)" fill="rgb(208,208,208)" opacity="0.78"/>
<ellipse cx="406.2" cy="65.5" rx="3.2" ry="1.2" transform="rotate(-149 406.2 65.5)" fill="rgb(176,176,176)" opacity="0.60"/>
<ellipse cx="491.4" cy="28.4" rx="4.6" ry="1.1" transform="rotate(-90 491.4 28.4)" fill="rgb(232,232,232)" opacity="0.79"/>
<ellipse cx="410.6" cy="80.2" rx="3.0" ry="1.5" transform="rotate(-155 410.6 80.2)" fill="rgb(185,185,185)" opacity="0.65"/>
<ellipse cx="379.9" cy="113.6" rx="6.4" ry="1.2" transform="rotate(-178 379.9 113.6)" fill="rgb(185,185,185)" opacity="0.50"/>
<ellipse cx="450.8" cy="25.4" rx="4.1" ry="1.8" transform="rotate(-114 450.8 25.4)" fill="rgb(240,240,240)" opacity="0.47"/>
<ellipse cx="479.8" cy="108.8" rx="2.9" ry="1.5" transform="rotate(-143 479.8 108.8)" fill="rgb(213,213,213)" opacity="0.89"/>
<ellipse cx="464.1" cy="105.8" rx="2.2" ry="1.2" transform="rotate(-156 464.1 105.8)" fill="rgb(176,176,176)" opacity="0.69"/>
<ellipse cx="393.8" cy="92.4" rx="3.7" ry="1.9" transform="rotate(-165 393.8 92.4)" fill="rgb(227,227,227)" opacity="0.65"/>
<ellipse cx="451.7" cy="38.4" rx="6.0" ry="1.9" transform="rotate(-117 451.7 38.4)" fill="rgb(211,211,211)" opacity="0.84"/>
<ellipse cx="376.0" cy="113.0" rx="5.9" ry="1.4" transform="rotate(-178 376.0 113.0)" fill="rgb(205,205,205)" opacity="0.81"/>
<ellipse cx="432.6" cy="105.8" rx="3.7" ry="1.4" transform="rotate(-168 432.6 105.8)" fill="rgb(196,196,196)" opacity="0.79"/>
<ellipse cx="484.8" cy="109.6" rx="3.5" ry="1.4" transform="rotate(-131 484.8 109.6)" fill="rgb(230,230,230)" opacity="0.88"/>
<ellipse cx="471.1" cy="132.6" rx="3.9" ry="1.0" transform="rotate(145 471.1 132.6)" fill="rgb(231,231,231)" opacity="0.78"/>
<ellipse cx="487.2" cy="100.0" rx="3.3" ry="1.7" transform="rotate(-105 487.2 100.0)" fill="rgb(238,238,238)" opacity="0.72"/>
<ellipse cx="434.5" cy="111.3" rx="5.3" ry="1.8" transform="rotate(-173 434.5 111.3)" fill="rgb(213,213,213)" opacity="0.83"/>
<ellipse cx="377.2" cy="104.9" rx="7.2" ry="1.9" transform="rotate(-173 377.2 104.9)" fill="rgb(196,196,196)" opacity="0.63"/>
<ellipse cx="383.0" cy="89.4" rx="6.0" ry="1.0" transform="rotate(-165 383.0 89.4)" fill="rgb(200,200,200)" opacity="0.53"/>
<ellipse cx="446.0" cy="50.5" rx="5.6" ry="1.1" transform="rotate(-124 446.0 50.5)" fill="rgb(199,199,199)" opacity="0.62"/>
<ellipse cx="470.1" cy="102.5" rx="2.1" ry="1.5" transform="rotate(-145 470.1 102.5)" fill="rgb(180,180,180)" opacity="0.67"/>
<ellipse cx="482.8" cy="98.4" rx="4.3" ry="1.2" transform="rotate(-115 482.8 98.4)" fill="rgb(238,238,238)" opacity="0.66"/>
<ellipse cx="405.8" cy="140.0" rx="5.0" ry="1.3" transform="rotate(166 405.8 140.0)" fill="rgb(179,179,179)" opacity="0.54"/>
<ellipse cx="412.5" cy="86.4" rx="4.4" ry="1.0" transform="rotate(-158 412.5 86.4)" fill="rgb(195,195,195)" opacity="0.47"/>
<ellipse cx="407.8" cy="42.5" rx="5.0" ry="1.9" transform="rotate(-138 407.8 42.5)" fill="rgb(240,240,240)" opacity="0.66"/>
<ellipse cx="447.2" cy="29.4" rx="6.4" ry="1.3" transform="rotate(-117 447.2 29.4)" fill="rgb(193,193,193)" opacity="0.90"/>
<ellipse cx="439.1" cy="89.2" rx="3.9" ry="1.9" transform="rotate(-151 439.1 89.2)" fill="rgb(223,223,223)" opacity="0.61"/>
<ellipse cx="385.1" cy="73.4" rx="6.7" ry="1.1" transform="rotate(-157 385.1 73.4)" fill="rgb(177,177,177)" opacity="0.86"/>
<ellipse cx="485.3" cy="105.8" rx="3.6" ry="2.1" transform="rotate(-119 485.3 105.8)" fill="rgb(214,214,214)" opacity="0.57"/>
<ellipse cx="489.3" cy="117.8" rx="2.8" ry="1.0" transform="rotate(-175 489.3 117.8)" fill="rgb(229,229,229)" opacity="0.76"/>
<ellipse cx="463.2" cy="104.4" rx="4.8" ry="1.0" transform="rotate(-155 463.2 104.4)" fill="rgb(222,222,222)" opacity="0.57"/>
<ellipse cx="389.5" cy="130.9" rx="4.7" ry="1.5" transform="rotate(173 389.5 130.9)" fill="rgb(204,204,204)" opacity="0.46"/>
<ellipse cx="455.1" cy="64.8" rx="4.5" ry="1.8" transform="rotate(-125 455.1 64.8)" fill="rgb(222,222,222)" opacity="0.82"/>
<ellipse cx="454.8" cy="56.5" rx="3.4" ry="1.4" transform="rotate(-121 454.8 56.5)" fill="rgb(206,206,206)" opacity="0.78"/>
<ellipse cx="449.0" cy="80.3" rx="3.2" ry="1.6" transform="rotate(-139 449.0 80.3)" fill="rgb(231,231,231)" opacity="0.66"/>
<ellipse cx="479.1" cy="41.8" rx="6.1" ry="1.9" transform="rotate(-100 479.1 41.8)" fill="rgb(225,225,225)" opacity="0.90"/>
<ellipse cx="379.6" cy="126.7" rx="6.4" ry="1.4" transform="rotate(176 379.6 126.7)" fill="rgb(208,208,208)" opacity="0.81"/>
<ellipse cx="404.8" cy="130.5" rx="5.7" ry="1.4" transform="rotate(172 404.8 130.5)" fill="rgb(230,230,230)" opacity="0.70"/>
<ellipse cx="385.7" cy="63.3" rx="3.8" ry="2.1" transform="rotate(-153 385.7 63.3)" fill="rgb(210,210,210)" opacity="0.59"/>
<ellipse cx="459.1" cy="45.2" rx="5.6" ry="1.4" transform="rotate(-114 459.1 45.2)" fill="rgb(202,202,202)" opacity="0.82"/>
<ellipse cx="433.0" cy="66.8" rx="5.2" ry="1.5" transform="rotate(-139 433.0 66.8)" fill="rgb(190,190,190)" opacity="0.74"/>
<ellipse cx="491.8" cy="35.3" rx="5.2" ry="2.0" transform="rotate(-90 491.8 35.3)" fill="rgb(227,227,227)" opacity="0.75"/>
<ellipse cx="475.2" cy="25.8" rx="6.4" ry="1.7" transform="rotate(-100 475.2 25.8)" fill="rgb(214,214,214)" opacity="0.71"/>
<ellipse cx="405.9" cy="64.8" rx="6.4" ry="1.1" transform="rotate(-148 405.9 64.8)" fill="rgb(197,197,197)" opacity="0.86"/>
<ellipse cx="469.0" cy="78.7" rx="4.9" ry="1.4" transform="rotate(-120 469.0 78.7)" fill="rgb(195,195,195)" opacity="0.69"/>
<ellipse cx="452.6" cy="92.4" rx="5.0" ry="1.5" transform="rotate(-147 452.6 92.4)" fill="rgb(220,220,220)" opacity="0.54"/>
<ellipse cx="428.4" cy="29.1" rx="5.2" ry="2.0" transform="rotate(-126 428.4 29.1)" fill="rgb(215,215,215)" opacity="0.73"/>
<ellipse cx="418.6" cy="58.1" rx="5.8" ry="1.6" transform="rotate(-141 418.6 58.1)" fill="rgb(234,234,234)" opacity="0.84"/>
<ellipse cx="490.4" cy="30.5" rx="4.0" ry="1.8" transform="rotate(-91 490.4 30.5)" fill="rgb(183,183,183)" opacity="0.50"/>
<ellipse cx="476.0" cy="92.8" rx="3.2" ry="1.8" transform="rotate(-122 476.0 92.8)" fill="rgb(216,216,216)" opacity="0.82"/>
<ellipse cx="476.7" cy="27.9" rx="3.3" ry="1.6" transform="rotate(-100 476.7 27.9)" fill="rgb(203,203,203)" opacity="0.52"/>
<ellipse cx="449.7" cy="34.7" rx="4.6" ry="1.6" transform="rotate(-117 449.7 34.7)" fill="rgb(225,225,225)" opacity="0.49"/>
<ellipse cx="491.1" cy="76.6" rx="5.2" ry="1.9" transform="rotate(-91 491.1 76.6)" fill="rgb(228,228,228)" opacity="0.54"/>
<ellipse cx="465.9" cy="35.1" rx="3.3" ry="1.1" transform="rotate(-107 465.9 35.1)" fill="rgb(200,200,200)" opacity="0.77"/>
<ellipse cx="454.2" cy="30.7" rx="5.2" ry="1.7" transform="rotate(-113 454.2 30.7)" fill="rgb(203,203,203)" opacity="0.51"/>
<ellipse cx="448.5" cy="55.3" rx="6.3" ry="1.1" transform="rotate(-125 448.5 55.3)" fill="rgb(213,213,213)" opacity="0.84"/>
<ellipse cx="471.2" cy="64.5" rx="2.8" ry="1.2" transform="rotate(-111 471.2 64.5)" fill="rgb(178,178,178)" opacity="0.73"/>
<ellipse cx="423.4" cy="114.4" rx="3.6" ry="1.1" transform="rotate(-177 423.4 114.4)" fill="rgb(192,192,192)" opacity="0.53"/>
<ellipse cx="437.0" cy="127.0" rx="5.0" ry="1.6" transform="rotate(171 437.0 127.0)" fill="rgb(178,178,178)" opacity="0.64"/>
<ellipse cx="403.7" cy="74.5" rx="5.3" ry="1.3" transform="rotate(-154 403.7 74.5)" fill="rgb(195,195,195)" opacity="0.63"/>
<ellipse cx="395.0" cy="128.3" rx="7.3" ry="1.3" transform="rotate(174 395.0 128.3)" fill="rgb(227,227,227)" opacity="0.51"/>
<ellipse cx="472.5" cy="87.3" rx="5.0" ry="1.2" transform="rotate(-122 472.5 87.3)" fill="rgb(235,235,235)" opacity="0.48"/>
<ellipse cx="369.8" cy="138.4" rx="4.6" ry="1.9" transform="rotate(171 369.8 138.4)" fill="rgb(217,217,217)" opacity="0.82"/>
<ellipse cx="426.2" cy="105.9" rx="3.8" ry="1.9" transform="rotate(-170 426.2 105.9)" fill="rgb(220,220,220)" opacity="0.50"/>
<ellipse cx="441.8" cy="29.4" rx="7.3" ry="1.3" transform="rotate(-120 441.8 29.4)" fill="rgb(208,208,208)" opacity="0.48"/>
<ellipse cx="381.3" cy="125.4" rx="6.5" ry="1.7" transform="rotate(176 381.3 125.4)" fill="rgb(175,175,175)" opacity="0.66"/>
<ellipse cx="475.3" cy="120.7" rx="4.0" ry="1.4" transform="rotate(171 475.3 120.7)" fill="rgb(194,194,194)" opacity="0.56"/>
<ellipse cx="474.0" cy="64.2" rx="4.8" ry="1.1" transform="rotate(-108 474.0 64.2)" fill="rgb(213,213,213)" opacity="0.80"/>
<ellipse cx="435.9" cy="97.4" rx="3.1" ry="1.3" transform="rotate(-160 435.9 97.4)" fill="rgb(202,202,202)" opacity="0.76"/>
<ellipse cx="428.7" cy="83.1" rx="3.1" ry="1.3" transform="rotate(-151 428.7 83.1)" fill="rgb(215,215,215)" opacity="0.48"/>
<ellipse cx="453.4" cy="45.4" rx="5.0" ry="1.6" transform="rotate(-118 453.4 45.4)" fill="rgb(212,212,212)" opacity="0.66"/>
<ellipse cx="467.8" cy="119.5" rx="2.5" ry="1.8" transform="rotate(177 467.8 119.5)" fill="rgb(175,175,175)" opacity="0.73"/>
<ellipse cx="396.9" cy="82.7" rx="5.2" ry="1.8" transform="rotate(-160 396.9 82.7)" fill="rgb(225,225,225)" opacity="0.64"/>
<ellipse cx="461.1" cy="83.6" rx="3.4" ry="1.4" transform="rotate(-132 461.1 83.6)" fill="rgb(213,213,213)" opacity="0.62"/>
<ellipse cx="376.0" cy="120.8" rx="6.3" ry="1.3" transform="rotate(179 376.0 120.8)" fill="rgb(224,224,224)" opacity="0.50"/>
<ellipse cx="444.1" cy="53.2" rx="4.7" ry="1.1" transform="rotate(-126 444.1 53.2)" fill="rgb(236,236,236)" opacity="0.55"/>
<ellipse cx="414.6" cy="81.5" rx="5.9" ry="1.3" transform="rotate(-155 414.6 81.5)" fill="rgb(211,211,211)" opacity="0.78"/>
<ellipse cx="452.9" cy="57.0" rx="3.3" ry="2.0" transform="rotate(-123 452.9 57.0)" fill="rgb(180,180,180)" opacity="0.78"/>
<ellipse cx="427.2" cy="84.4" rx="5.1" ry="1.4" transform="rotate(-153 427.2 84.4)" fill="rgb(176,176,176)" opacity="0.87"/>
<ellipse cx="489.0" cy="71.3" rx="2.8" ry="1.2" transform="rotate(-94 489.0 71.3)" fill="rgb(197,197,197)" opacity="0.77"/>
<ellipse cx="448.5" cy="35.5" rx="5.5" ry="2.0" transform="rotate(-118 448.5 35.5)" fill="rgb(219,219,219)" opacity="0.86"/>
<ellipse cx="446.1" cy="59.1" rx="5.3" ry="1.7" transform="rotate(-128 446.1 59.1)" fill="rgb(237,237,237)" opacity="0.71"/>
<ellipse cx="414.5" cy="107.8" rx="6.4" ry="2.0" transform="rotate(-173 414.5 107.8)" fill="rgb(175,175,175)" opacity="0.87"/>
<ellipse cx="376.6" cy="120.1" rx="6.1" ry="1.1" transform="rotate(179 376.6 120.1)" fill="rgb(175,175,175)" opacity="0.73"/>
<ellipse cx="423.9" cy="138.2" rx="4.9" ry="1.7" transform="rotate(163 423.9 138.2)" fill="rgb(230,230,230)" opacity="0.56"/>
<ellipse cx="463.0" cy="33.4" rx="3.3" ry="1.1" transform="rotate(-109 463.0 33.4)" fill="rgb(206,206,206)" opacity="0.84"/>
<ellipse cx="454.5" cy="59.6" rx="5.7" ry="1.1" transform="rotate(-123 454.5 59.6)" fill="rgb(184,184,184)" opacity="0.55"/>
<ellipse cx="409.6" cy="79.1" rx="6.7" ry="1.3" transform="rotate(-155 409.6 79.1)" fill="rgb(215,215,215)" opacity="0.53"/>
<ellipse cx="387.9" cy="135.9" rx="4.8" ry="1.6" transform="rotate(170 387.9 135.9)" fill="rgb(197,197,197)" opacity="0.85"/>
<ellipse cx="422.6" cy="63.1" rx="3.7" ry="1.2" transform="rotate(-142 422.6 63.1)" fill="rgb(191,191,191)" opacity="0.84"/>
<ellipse cx="426.1" cy="58.5" rx="4.9" ry="1.3" transform="rotate(-138 426.1 58.5)" fill="rgb(183,183,183)" opacity="0.49"/>
<ellipse cx="390.5" cy="120.5" rx="7.1" ry="1.6" transform="rotate(179 390.5 120.5)" fill="rgb(200,200,200)" opacity="0.56"/>
<ellipse cx="388.2" cy="139.0" rx="6.5" ry="1.9" transform="rotate(169 388.2 139.0)" fill="rgb(194,194,194)" opacity="0.69"/>
<ellipse cx="391.2" cy="98.2" rx="4.6" ry="2.0" transform="rotate(-169 391.2 98.2)" fill="rgb(197,197,197)" opacity="0.56"/>
<ellipse cx="467.0" cy="133.6" rx="2.3" ry="1.5" transform="rotate(148 467.0 133.6)" fill="rgb(217,217,217)" opacity="0.86"/>
<ellipse cx="434.8" cy="62.4" rx="5.2" ry="1.6" transform="rotate(-136 434.8 62.4)" fill="rgb(187,187,187)" opacity="0.86"/>
<ellipse cx="475.9" cy="106.8" rx="2.6" ry="1.8" transform="rotate(-145 475.9 106.8)" fill="rgb(236,236,236)" opacity="0.71"/>
<ellipse cx="394.9" cy="75.6" rx="6.4" ry="1.8" transform="rotate(-156 394.9 75.6)" fill="rgb(188,188,188)" opacity="0.89"/>
<ellipse cx="427.0" cy="36.0" rx="5.4" ry="1.2" transform="rotate(-128 427.0 36.0)" fill="rgb(181,181,181)" opacity="0.75"/>
<ellipse cx="408.6" cy="122.0" rx="4.0" ry="2.0" transform="rotate(177 408.6 122.0)" fill="rgb(208,208,208)" opacity="0.59"/>
<ellipse cx="388.9" cy="75.2" rx="3.9" ry="1.2" transform="rotate(-157 388.9 75.2)" fill="rgb(221,221,221)" opacity="0.69"/>
<ellipse cx="442.2" cy="83.9" rx="5.1" ry="2.0" transform="rotate(-146 442.2 83.9)" fill="rgb(185,185,185)" opacity="0.64"/>
<ellipse cx="467.2" cy="50.0" rx="6.5" ry="1.1" transform="rotate(-110 467.2 50.0)" fill="rgb(188,188,188)" opacity="0.71"/>
<ellipse cx="474.2" cy="83.8" rx="3.8" ry="1.3" transform="rotate(-117 474.2 83.8)" fill="rgb(201,201,201)" opacity="0.59"/>
<ellipse cx="402.6" cy="117.8" rx="3.3" ry="1.0" transform="rotate(-180 402.6 117.8)" fill="rgb(186,186,186)" opacity="0.75"/>
<ellipse cx="466.9" cy="135.7" rx="4.4" ry="1.2" transform="rotate(145 466.9 135.7)" fill="rgb(205,205,205)" opacity="0.68"/>
<ellipse cx="401.0" cy="96.8" rx="6.0" ry="1.1" transform="rotate(-167 401.0 96.8)" fill="rgb(223,223,223)" opacity="0.56"/>
<ellipse cx="472.4" cy="88.6" rx="3.1" ry="2.0" transform="rotate(-124 472.4 88.6)" fill="rgb(220,220,220)" opacity="0.52"/>
<ellipse cx="368.3" cy="110.7" rx="4.3" ry="1.9" transform="rotate(-177 368.3 110.7)" fill="rgb(184,184,184)" opacity="0.72"/>
<ellipse cx="419.3" cy="75.2" rx="6.8" ry="2.1" transform="rotate(-149 419.3 75.2)" fill="rgb(205,205,205)" opacity="0.79"/>
<ellipse cx="377.8" cy="114.1" rx="6.3" ry="1.6" transform="rotate(-178 377.8 114.1)" fill="rgb(205,205,205)" opacity="0.46"/>
<ellipse cx="437.7" cy="119.6" rx="4.6" ry="1.7" transform="rotate(178 437.7 119.6)" fill="rgb(177,177,177)" opacity="0.74"/>
<ellipse cx="461.4" cy="81.8" rx="4.7" ry="1.2" transform="rotate(-130 461.4 81.8)" fill="rgb(186,186,186)" opacity="0.60"/>
<ellipse cx="422.0" cy="74.8" rx="4.4" ry="1.1" transform="rotate(-148 422.0 74.8)" fill="rgb(207,207,207)" opacity="0.71"/>
<ellipse cx="384.3" cy="135.4" rx="3.7" ry="1.5" transform="rotate(171 384.3 135.4)" fill="rgb(237,237,237)" opacity="0.58"/>
<ellipse cx="482.3" cy="134.8" rx="3.9" ry="1.2" transform="rotate(120 482.3 134.8)" fill="rgb(201,201,201)" opacity="0.56"/>
<ellipse cx="437.3" cy="29.5" rx="3.3" ry="1.6" transform="rotate(-122 437.3 29.5)" fill="rgb(211,211,211)" opacity="0.72"/>
<ellipse cx="450.6" cy="121.2" rx="3.6" ry="1.7" transform="rotate(176 450.6 121.2)" fill="rgb(233,233,233)" opacity="0.57"/>
<ellipse cx="457.0" cy="92.7" rx="5.1" ry="1.5" transform="rotate(-144 457.0 92.7)" fill="rgb(206,206,206)" opacity="0.49"/>
<ellipse cx="374.2" cy="141.7" rx="5.8" ry="1.8" transform="rotate(169 374.2 141.7)" fill="rgb(216,216,216)" opacity="0.57"/>
<ellipse cx="456.1" cy="22.8" rx="3.2" ry="1.5" transform="rotate(-111 456.1 22.8)" fill="rgb(214,214,214)" opacity="0.59"/>
<ellipse cx="472.3" cy="73.9" rx="2.8" ry="1.6" transform="rotate(-114 472.3 73.9)" fill="rgb(189,189,189)" opacity="0.51"/>
<ellipse cx="444.7" cy="109.2" rx="4.4" ry="1.2" transform="rotate(-170 444.7 109.2)" fill="rgb(233,233,233)" opacity="0.53"/>
<ellipse cx="449.5" cy="125.1" rx="5.2" ry="1.3" transform="rotate(170 449.5 125.1)" fill="rgb(215,215,215)" opacity="0.54"/>
<ellipse cx="441.5" cy="64.4" rx="6.1" ry="1.9" transform="rotate(-133 441.5 64.4)" fill="rgb(199,199,199)" opacity="0.76"/>
<ellipse cx="413.9" cy="65.5" rx="4.3" ry="2.0" transform="rotate(-146 413.9 65.5)" fill="rgb(199,199,199)" opacity="0.86"/>
<ellipse cx="419.6" cy="65.3" rx="6.7" ry="1.5" transform="rotate(-144 419.6 65.3)" fill="rgb(176,176,176)" opacity="0.49"/>
<ellipse cx="420.9" cy="74.8" rx="5.9" ry="1.7" transform="rotate(-149 420.9 74.8)" fill="rgb(212,212,212)" opacity="0.65"/>
<ellipse cx="484.4" cy="65.1" rx="5.1" ry="1.2" transform="rotate(-98 484.4 65.1)" fill="rgb(181,181,181)" opacity="0.86"/>
<ellipse cx="377.0" cy="123.8" rx="5.1" ry="1.6" transform="rotate(177 377.0 123.8)" fill="rgb(215,215,215)" opacity="0.71"/>
<ellipse cx="366.6" cy="122.3" rx="7.7" ry="1.2" transform="rotate(178 366.6 122.3)" fill="rgb(233,233,233)" opacity="0.71"/>
<ellipse cx="404.9" cy="111.9" rx="4.5" ry="1.7" transform="rotate(-176 404.9 111.9)" fill="rgb(220,220,220)" opacity="0.59"/>
<ellipse cx="465.4" cy="46.1" rx="5.8" ry="2.0" transform="rotate(-110 465.4 46.1)" fill="rgb(199,199,199)" opacity="0.56"/>
<ellipse cx="430.4" cy="116.7" rx="3.4" ry="2.1" transform="rotate(-179 430.4 116.7)" fill="rgb(208,208,208)" opacity="0.48"/>
<ellipse cx="459.9" cy="76.8" rx="4.8" ry="1.1" transform="rotate(-128 459.9 76.8)" fill="rgb(190,190,190)" opacity="0.82"/>
<ellipse cx="419.8" cy="67.4" rx="4.9" ry="1.3" transform="rotate(-145 419.8 67.4)" fill="rgb(208,208,208)" opacity="0.67"/>
<ellipse cx="422.8" cy="121.5" rx="6.3" ry="1.7" transform="rotate(177 422.8 121.5)" fill="rgb(181,181,181)" opacity="0.77"/>
<ellipse cx="470.9" cy="107.3" rx="4.3" ry="2.0" transform="rotate(-153 470.9 107.3)" fill="rgb(179,179,179)" opacity="0.64"/>
<ellipse cx="442.5" cy="36.5" rx="5.7" ry="1.7" transform="rotate(-121 442.5 36.5)" fill="rgb(206,206,206)" opacity="0.61"/>
<ellipse cx="453.1" cy="89.2" rx="5.4" ry="1.8" transform="rotate(-143 453.1 89.2)" fill="rgb(184,184,184)" opacity="0.84"/>
<ellipse cx="426.8" cy="88.5" rx="4.2" ry="1.6" transform="rotate(-156 426.8 88.5)" fill="rgb(186,186,186)" opacity="0.65"/>
<ellipse cx="470.1" cy="22.3" rx="7.1" ry="1.4" transform="rotate(-103 470.1 22.3)" fill="rgb(226,226,226)" opacity="0.73"/>
<ellipse cx="442.5" cy="38.6" rx="4.6" ry="1.7" transform="rotate(-122 442.5 38.6)" fill="rgb(233,233,233)" opacity="0.83"/>
<ellipse cx="380.3" cy="83.3" rx="7.2" ry="1.3" transform="rotate(-163 380.3 83.3)" fill="rgb(185,185,185)" opacity="0.82"/>
<ellipse cx="473.9" cy="98.8" rx="4.5" ry="1.3" transform="rotate(-133 473.9 98.8)" fill="rgb(199,199,199)" opacity="0.84"/>
<ellipse cx="377.0" cy="112.9" rx="7.4" ry="1.8" transform="rotate(-177 377.0 112.9)" fill="rgb(189,189,189)" opacity="0.68"/>
<ellipse cx="488.5" cy="28.6" rx="5.9" ry="1.6" transform="rotate(-92 488.5 28.6)" fill="rgb(228,228,228)" opacity="0.67"/>
<ellipse cx="449.2" cy="64.1" rx="3.6" ry="1.8" transform="rotate(-128 449.2 64.1)" fill="rgb(226,226,226)" opacity="0.87"/>
<ellipse cx="375.6" cy="136.6" rx="5.3" ry="1.2" transform="rotate(171 375.6 136.6)" fill="rgb(235,235,235)" opacity="0.55"/>
<ellipse cx="458.7" cy="112.3" rx="2.4" ry="1.1" transform="rotate(-170 458.7 112.3)" fill="rgb(201,201,201)" opacity="0.59"/>
<ellipse cx="433.1" cy="77.8" rx="3.8" ry="1.4" transform="rotate(-146 433.1 77.8)" fill="rgb(229,229,229)" opacity="0.61"/>
<ellipse cx="475.4" cy="74.5" rx="4.1" ry="1.7" transform="rotate(-111 475.4 74.5)" fill="rgb(198,198,198)" opacity="0.63"/>
<ellipse cx="414.1" cy="53.0" rx="6.5" ry="1.4" transform="rotate(-140 414.1 53.0)" fill="rgb(212,212,212)" opacity="0.76"/>
<ellipse cx="435.9" cy="34.1" rx="3.6" ry="1.9" transform="rotate(-124 435.9 34.1)" fill="rgb(207,207,207)" opacity="0.67"/>
<ellipse cx="464.5" cy="54.7" rx="3.5" ry="2.0" transform="rotate(-113 464.5 54.7)" fill="rgb(236,236,236)" opacity="0.89"/>
<ellipse cx="435.5" cy="115.9" rx="5.5" ry="1.9" transform="rotate(-178 435.5 115.9)" fill="rgb(238,238,238)" opacity="0.58"/>
<ellipse cx="488.1" cy="90.9" rx="2.2" ry="1.2" transform="rotate(-98 488.1 90.9)" fill="rgb(229,229,229)" opacity="0.74"/>
<ellipse cx="412.8" cy="97.1" rx="4.7" ry="1.6" transform="rotate(-165 412.8 97.1)" fill="rgb(211,211,211)" opacity="0.59"/>
<ellipse cx="456.9" cy="132.0" rx="5.1" ry="1.3" transform="rotate(158 456.9 132.0)" fill="rgb(186,186,186)" opacity="0.68"/>
<ellipse cx="472.9" cy="94.9" rx="3.3" ry="1.9" transform="rotate(-130 472.9 94.9)" fill="rgb(225,225,225)" opacity="0.55"/>
<ellipse cx="469.5" cy="26.8" rx="6.0" ry="1.9" transform="rotate(-104 469.5 26.8)" fill="rgb(180,180,180)" opacity="0.77"/>
<ellipse cx="444.6" cy="125.9" rx="4.3" ry="1.1" transform="rotate(171 444.6 125.9)" fill="rgb(218,218,218)" opacity="0.58"/>
<ellipse cx="393.2" cy="137.7" rx="7.0" ry="1.1" transform="rotate(169 393.2 137.7)" fill="rgb(209,209,209)" opacity="0.85"/>
<ellipse cx="431.0" cy="31.3" rx="4.1" ry="1.2" transform="rotate(-125 431.0 31.3)" fill="rgb(225,225,225)" opacity="0.69"/>
<ellipse cx="375.2" cy="98.2" rx="3.9" ry="1.4" transform="rotate(-170 375.2 98.2)" fill="rgb(235,235,235)" opacity="0.46"/>
<ellipse cx="394.7" cy="98.5" rx="7.3" ry="1.7" transform="rotate(-169 394.7 98.5)" fill="rgb(216,216,216)" opacity="0.83"/>
<ellipse cx="424.4" cy="109.8" rx="5.8" ry="1.9" transform="rotate(-173 424.4 109.8)" fill="rgb(227,227,227)" opacity="0.62"/>
<ellipse cx="456.1" cy="28.2" rx="5.1" ry="2.0" transform="rotate(-112 456.1 28.2)" fill="rgb(222,222,222)" opacity="0.83"/>
<ellipse cx="488.1" cy="24.7" rx="6.5" ry="1.2" transform="rotate(-92 488.1 24.7)" fill="rgb(208,208,208)" opacity="0.49"/>
<ellipse cx="489.3" cy="38.7" rx="4.8" ry="2.1" transform="rotate(-92 489.3 38.7)" fill="rgb(209,209,209)" opacity="0.71"/>
<ellipse cx="381.9" cy="99.8" rx="4.1" ry="1.9" transform="rotate(-171 381.9 99.8)" fill="rgb(239,239,239)" opacity="0.73"/>
<ellipse cx="478.9" cy="87.6" rx="3.4" ry="1.0" transform="rotate(-113 478.9 87.6)" fill="rgb(208,208,208)" opacity="0.79"/>
<ellipse cx="424.2" cy="76.3" rx="4.4" ry="1.9" transform="rotate(-148 424.2 76.3)" fill="rgb(202,202,202)" opacity="0.89"/>
<ellipse cx="459.1" cy="36.1" rx="3.9" ry="1.8" transform="rotate(-112 459.1 36.1)" fill="rgb(201,201,201)" opacity="0.68"/>
<ellipse cx="488.9" cy="82.7" rx="3.6" ry="1.1" transform="rotate(-95 488.9 82.7)" fill="rgb(197,197,197)" opacity="0.85"/>
<ellipse cx="482.8" cy="90.2" rx="3.1" ry="1.2" transform="rotate(-108 482.8 90.2)" fill="rgb(194,194,194)" opacity="0.59"/>
<ellipse cx="423.9" cy="134.9" rx="6.5" ry="1.2" transform="rotate(166 423.9 134.9)" fill="rgb(220,220,220)" opacity="0.77"/>
<ellipse cx="438.6" cy="62.3" rx="6.2" ry="1.7" transform="rotate(-134 438.6 62.3)" fill="rgb(179,179,179)" opacity="0.62"/>
<ellipse cx="436.3" cy="122.9" rx="3.8" ry="1.0" transform="rotate(175 436.3 122.9)" fill="rgb(185,185,185)" opacity="0.63"/>
<ellipse cx="388.4" cy="97.2" rx="3.8" ry="1.3" transform="rotate(-169 388.4 97.2)" fill="rgb(188,188,188)" opacity="0.73"/>
<ellipse cx="492.7" cy="34.3" rx="6.4" ry="1.0" transform="rotate(-89 492.7 34.3)" fill="rgb(231,231,231)" opacity="0.54"/>
<ellipse cx="442.3" cy="93.0" rx="4.5" ry="1.8" transform="rotate(-153 442.3 93.0)" fill="rgb(209,209,209)" opacity="0.76"/>
<ellipse cx="451.4" cy="107.6" rx="3.8" ry="1.8" transform="rotate(-166 451.4 107.6)" fill="rgb(197,197,197)" opacity="0.53"/>
<ellipse cx="438.8" cy="94.4" rx="3.2" ry="1.7" transform="rotate(-156 438.8 94.4)" fill="rgb(232,232,232)" opacity="0.50"/>
<ellipse cx="462.3" cy="48.4" rx="6.5" ry="2.0" transform="rotate(-113 462.3 48.4)" fill="rgb(200,200,200)" opacity="0.87"/>
<ellipse cx="371.2" cy="125.1" rx="4.5" ry="1.3" transform="rotate(177 371.2 125.1)" fill="rgb(204,204,204)" opacity="0.59"/>
<ellipse cx="454.9" cy="119.8" rx="3.9" ry="1.6" transform="rotate(177 454.9 119.8)" fill="rgb(229,229,229)" opacity="0.85"/>
<ellipse cx="414.0" cy="103.9" rx="5.8" ry="1.8" transform="rotate(-170 414.0 103.9)" fill="rgb(199,199,199)" opacity="0.63"/>
<ellipse cx="412.0" cy="106.2" rx="3.5" ry="1.1" transform="rotate(-172 412.0 106.2)" fill="rgb(207,207,207)" opacity="0.58"/>
<ellipse cx="466.3" cy="129.8" rx="5.1" ry="1.1" transform="rotate(155 466.3 129.8)" fill="rgb(202,202,202)" opacity="0.76"/>
<ellipse cx="384.1" cy="95.2" rx="4.2" ry="1.2" transform="rotate(-168 384.1 95.2)" fill="rgb(210,210,210)" opacity="0.46"/>
<ellipse cx="405.3" cy="117.4" rx="3.8" ry="1.0" transform="rotate(-180 405.3 117.4)" fill="rgb(180,180,180)" opacity="0.63"/>
<ellipse cx="474.5" cy="129.5" rx="3.9" ry="1.4" transform="rotate(147 474.5 129.5)" fill="rgb(231,231,231)" opacity="0.53"/>
<ellipse cx="487.2" cy="82.7" rx="4.4" ry="1.2" transform="rotate(-98 487.2 82.7)" fill="rgb(190,190,190)" opacity="0.53"/>
<ellipse cx="388.1" cy="81.9" rx="6.5" ry="1.7" transform="rotate(-161 388.1 81.9)" fill="rgb(230,230,230)" opacity="0.74"/>
<ellipse cx="422.6" cy="111.5" rx="5.2" ry="1.4" transform="rotate(-175 422.6 111.5)" fill="rgb(223,223,223)" opacity="0.53"/>
<ellipse cx="426.3" cy="125.4" rx="6.0" ry="1.4" transform="rotate(174 426.3 125.4)" fill="rgb(196,196,196)" opacity="0.76"/>
<ellipse cx="442.5" cy="75.9" rx="5.5" ry="1.9" transform="rotate(-140 442.5 75.9)" fill="rgb(184,184,184)" opacity="0.47"/>
<ellipse cx="388.0" cy="137.7" rx="7.7" ry="1.2" transform="rotate(169 388.0 137.7)" fill="rgb(193,193,193)" opacity="0.58"/>
<ellipse cx="405.2" cy="44.3" rx="6.1" ry="1.3" transform="rotate(-140 405.2 44.3)" fill="rgb(220,220,220)" opacity="0.73"/>
<ellipse cx="470.1" cy="124.2" rx="4.1" ry="1.9" transform="rotate(164 470.1 124.2)" fill="rgb(179,179,179)" opacity="0.58"/>
<ellipse cx="426.2" cy="72.5" rx="5.1" ry="1.5" transform="rotate(-145 426.2 72.5)" fill="rgb(188,188,188)" opacity="0.78"/>
<ellipse cx="478.0" cy="136.9" rx="4.2" ry="2.1" transform="rotate(127 478.0 136.9)" fill="rgb(237,237,237)" opacity="0.52"/>
<ellipse cx="447.4" cy="134.3" rx="5.2" ry="1.3" transform="rotate(160 447.4 134.3)" fill="rgb(204,204,204)" opacity="0.55"/>
<ellipse cx="489.1" cy="62.6" rx="4.8" ry="1.5" transform="rotate(-93 489.1 62.6)" fill="rgb(194,194,194)" opacity="0.89"/>
</g></g>
<g filter="url(#bl1)">
<rect x="384" y="74" width="8.5" height="126" fill="#e6e6e6"/>

<g stroke="#383838" fill="none">
<line x1="396" y1="136" x2="486" y2="100" stroke-width="2.2"/>
<line x1="400" y1="140" x2="486" y2="108" stroke-width="1.6"/>
<line x1="392" y1="131" x2="470" y2="104" stroke-width="1.4"/>
<line x1="404" y1="143" x2="480" y2="116" stroke-width="1.2"/>
<line x1="410" y1="130" x2="486" y2="96" stroke-width="1.4"/>
</g>
<polygon points="512,90 528,80 546,72 558,76 556,96 560,114 548,119 530,116 512,106" fill="#141414"/>
<polygon points="556,76 568,80 578,98 580,122 560,120 554,100" fill="#f6f6f6"/>
<polygon points="478,139 572,124.5 572,143.5 480,141" fill="#b4b4b4"/>
<polyline points="476,139 572,124.5" fill="none" stroke="#2a2a2a" stroke-width="1.6"/>
<polyline points="478,141 572,143.5" fill="none" stroke="#2a2a2a" stroke-width="1.8"/>
<rect x="569" y="124" width="9" height="18" fill="#f6f6f6"/>
<line x1="515" y1="22" x2="517" y2="215" stroke="#e8e8e8" stroke-width="1.2"/>
<line x1="501" y1="26" x2="505" y2="46" stroke="#f4f4f4" stroke-width="3"/>
</g>
<rect x="365" y="22" width="223" height="210" filter="url(#grain)" opacity="0.12"/>
<rect x="365" y="22" width="14" height="210" fill="url(#lfade)"/>
<ellipse cx="458" cy="128" rx="22" ry="12" fill="#ff3030" opacity="0.25" filter="url(#bl6)"/>
<ellipse cx="460" cy="132" rx="10.5" ry="9" fill="#ff2a2a" filter="url(#bl1)"/>
</g>
<circle cx="474" cy="128" r="130" fill="url(#vign)"/>
</g>
<g fill="#f4f4f4" style="font-family:'Liberation Sans',sans-serif">
<text x="405" y="99.5" font-size="15">Str</text>
<text x="484" y="109" font-size="16">ac</text>
<text x="436" y="155.6" font-size="14.5">VP</text>
</g>
<line x1="476" y1="172.4" x2="492" y2="153.5" stroke="#f4f4f4" stroke-width="1.6"/>
<polygon points="497.9,148.1 488,152 494.5,158" fill="#f4f4f4"/>

<text x="13.1" y="275.2" font-size="16" font-weight="bold" textLength="19.7" lengthAdjust="spacingAndGlyphs"><tspan font-size="17" font-weight="normal" stroke="#000" stroke-width="0.5">(</tspan>C<tspan font-size="17" font-weight="normal" stroke="#000" stroke-width="0.5">)</tspan></text>
<text x="11.2" y="306.5" font-size="14" fill="#111" stroke="#111" stroke-width="0.22" textLength="52.8" lengthAdjust="spacingAndGlyphs">baseline</text>
<rect x="91" y="310" width="104.3" height="230.5" fill="#b2f0f8"/>
<rect x="89.7" y="287.2" width="103.2" height="23.2" fill="#fff" stroke="#1f2f52" stroke-width="1.4"/>
<text x="128.5" y="303.8" font-size="13.3" fill="#111" stroke="#111" stroke-width="0.22" textLength="25.7" lengthAdjust="spacingAndGlyphs">VEH</text>
<rect x="89.7" y="423.8" width="103.2" height="23" fill="#fff" stroke="#1f2f52" stroke-width="1.4"/>
<text x="110.9" y="440.7" font-size="14" fill="#111" stroke="#111" stroke-width="0.22" textLength="61" lengthAdjust="spacingAndGlyphs">GPR52-IA</text>
<line x1="1.3" y1="419.4" x2="84.0" y2="419.4" stroke="#7a7a7a" stroke-width="1.6"/>
<line x1="10.5" y1="412.9" x2="10.5" y2="418.9" stroke="#4fc0ea" stroke-width="1.4"/>
<line x1="30.3" y1="412.9" x2="30.3" y2="418.9" stroke="#4fc0ea" stroke-width="1.4"/>
<line x1="5.0" y1="538.0" x2="88.0" y2="538.0" stroke="#7a7a7a" stroke-width="1.6"/>
<line x1="14.0" y1="531.5" x2="14.0" y2="537.5" stroke="#4fc0ea" stroke-width="1.4"/>
<line x1="33.8" y1="531.5" x2="33.8" y2="537.5" stroke="#4fc0ea" stroke-width="1.4"/>
<line x1="101.0" y1="419.4" x2="183.4" y2="419.4" stroke="#7a7a7a" stroke-width="1.6"/>
<line x1="109.9" y1="412.9" x2="109.9" y2="418.9" stroke="#4fc0ea" stroke-width="1.4"/>
<line x1="130.0" y1="412.9" x2="130.0" y2="418.9" stroke="#4fc0ea" stroke-width="1.4"/>
<line x1="101.0" y1="538.0" x2="183.4" y2="538.0" stroke="#7a7a7a" stroke-width="1.6"/>
<line x1="109.9" y1="531.5" x2="109.9" y2="537.5" stroke="#4fc0ea" stroke-width="1.4"/>
<line x1="130.0" y1="531.5" x2="130.0" y2="537.5" stroke="#4fc0ea" stroke-width="1.4"/>
<polyline points="152.6,353.5 152.6,368.2 170.8,368.2" fill="none" stroke="#222" stroke-width="1.3"/>
<polyline points="153,473.6 153,485.4 170.8,485.4" fill="none" stroke="#222" stroke-width="1.3"/>
<path d="M6.10,399.70 L16.20,399.70 L16.30,319.00 L17.40,318.50 L17.40,323.50 L17.65,320.03 L17.90,321.52 L18.15,322.98 L18.40,324.40 L18.65,325.80 L18.90,327.16 L19.15,328.50 L19.40,329.81 L19.65,331.09 L19.90,332.35 L20.15,333.58 L20.40,334.78 L20.65,335.96 L20.90,337.11 L21.15,338.24 L21.40,339.35 L21.65,340.43 L21.90,341.49 L22.15,342.53 L22.40,343.55 L22.65,344.55 L22.90,345.52 L23.15,346.48 L23.40,347.41 L23.65,348.33 L23.90,349.23 L24.15,350.11 L24.40,350.97 L24.65,351.82 L24.90,352.65 L25.15,353.46 L25.40,354.25 L25.65,355.03 L25.90,355.80 L26.15,356.54 L26.40,357.28 L26.65,358.00 L26.90,358.83 L27.15,359.64 L27.40,360.44 L27.65,361.23 L27.90,362.00 L28.15,362.75 L28.40,363.49 L28.65,364.21 L28.90,364.92 L29.15,365.61 L29.40,366.29 L29.65,366.95 L29.90,367.60 L30.15,368.24 L30.40,368.86 L30.65,369.47 L30.90,370.07 L31.15,370.66 L31.40,371.23 L31.65,371.80 L31.90,372.35 L32.15,372.89 L32.40,373.42 L32.65,373.93 L32.90,374.44 L33.15,374.94 L33.40,377.68 L33.65,376.86 L33.90,371.13 L34.15,360.54 L34.40,359.63 L34.65,357.75 L34.90,353.81 L35.15,354.60 L35.40,355.37 L35.65,356.13 L35.90,356.88 L36.15,357.61 L36.40,358.34 L36.65,359.04 L36.90,359.74 L37.15,360.42 L37.40,361.10 L37.65,361.76 L37.90,362.40 L38.15,363.04 L38.40,363.67 L38.65,364.28 L38.90,364.89 L39.15,365.48 L39.40,366.07 L39.65,366.64 L39.90,367.20 L40.15,367.76 L40.40,368.30 L40.65,368.83 L40.90,369.36 L41.15,369.88 L41.40,370.38 L41.65,370.88 L41.90,371.37 L42.15,371.85 L42.40,372.32 L42.65,372.79 L42.90,373.24 L43.15,373.69 L43.40,374.13 L43.65,374.57 L43.90,374.99 L44.15,375.41 L44.40,375.82 L44.65,376.22 L44.90,376.62 L45.15,377.01 L45.40,377.39 L45.65,377.77 L45.90,378.14 L46.15,378.50 L46.40,378.86 L46.65,379.21 L46.90,379.55 L47.15,379.89 L47.40,380.22 L47.65,380.55 L47.90,380.87 L48.15,381.19 L48.40,381.50 L48.65,381.80 L48.90,382.10 L49.15,382.40 L49.40,382.69 L49.65,382.97 L49.90,383.25 L50.15,383.52 L50.40,383.79 L50.65,384.06 L50.90,384.32 L51.15,384.57 L51.40,384.83 L51.65,385.07 L51.90,385.32 L52.15,385.55 L52.40,385.79 L52.65,386.02 L52.90,386.25 L53.15,386.47 L53.40,386.69 L53.65,386.90 L53.90,387.11 L54.15,387.32 L54.40,387.53 L54.65,387.73 L54.90,387.92 L55.15,388.12 L55.40,388.31 L55.65,388.49 L55.90,388.68 L56.15,388.86 L56.40,389.04 L56.65,389.21 L56.90,389.38 L57.15,389.55 L57.40,389.72 L57.65,389.88 L57.90,390.04 L58.15,390.20 L58.40,390.35 L58.65,390.50 L58.90,390.65 L59.15,390.80 L59.40,390.95 L59.65,391.09 L59.90,391.23 L60.15,391.36 L60.40,391.50 L60.65,391.63 L60.90,391.76 L61.15,391.89 L61.40,392.02 L61.65,392.14 L61.90,392.26 L62.15,392.38 L62.40,392.50 L62.65,392.62 L62.90,392.73 L63.15,392.84 L63.40,392.95 L63.65,393.06 L63.90,393.17 L64.15,393.27 L64.40,393.37 L64.65,393.47 L64.90,393.57 L65.15,393.67 L65.40,393.77 L65.65,393.86 L65.90,393.96 L66.15,394.05 L66.40,394.14 L66.65,394.23 L66.90,394.31 L67.15,394.40 L67.40,394.48 L67.65,394.57 L67.90,394.65 L68.15,394.73 L68.40,394.81 L68.65,394.88 L68.90,394.96 L69.15,395.03 L69.40,395.11 L69.65,395.18 L69.90,395.25 L70.15,395.32 L70.40,395.39 L70.65,395.46 L70.90,395.53 L71.15,395.59 L71.40,395.66 L71.65,395.72 L71.90,395.78 L72.15,395.84 L72.40,395.90 L72.65,395.96 L72.90,396.02 L73.15,396.08 L73.40,396.14 L73.65,396.19 L73.90,396.25 L74.15,396.30 L74.40,396.35 L74.65,396.41 L74.90,396.46 L75.15,396.51 L75.40,396.56 L75.65,396.61 L75.90,396.66 L76.15,396.70 L76.40,396.75 L76.65,396.80 L76.90,396.84 L77.15,396.89 L77.40,396.93 L77.65,396.97 L77.90,397.01 L78.15,397.06 L78.40,397.10 L78.65,397.14 L78.90,397.18 L79.15,397.22 L79.40,397.26 L79.65,397.29 L79.90,397.33 L80.15,397.37 L80.40,397.40 L80.65,397.44 L80.90,397.47 L81.15,397.51 L81.40,397.54 L81.65,397.58 L81.90,397.61 L82.15,397.64 L82.40,397.67 L82.65,397.70 L82.90,397.74 L83.15,397.77 L83.40,397.80 L83.65,397.83 L83.90,397.85 L83.90,402.28 L83.65,402.26 L83.40,402.23 L83.15,402.21 L82.90,402.18 L82.65,402.15 L82.40,402.12 L82.15,402.09 L81.90,402.07 L81.65,402.04 L81.40,402.01 L81.15,401.98 L80.90,401.95 L80.65,401.91 L80.40,401.88 L80.15,401.85 L79.90,401.82 L79.65,401.78 L79.40,401.75 L79.15,401.72 L78.90,401.68 L78.65,401.64 L78.40,401.61 L78.15,401.57 L77.90,401.53 L77.65,401.50 L77.40,401.46 L77.15,401.42 L76.90,401.38 L76.65,401.34 L76.40,401.30 L76.15,401.26 L75.90,401.22 L75.65,401.17 L75.40,401.13 L75.15,401.09 L74.90,401.04 L74.65,401.00 L74.40,400.95 L74.15,400.90 L73.90,400.85 L73.65,400.81 L73.40,400.76 L73.15,400.71 L72.90,400.66 L72.65,400.61 L72.40,400.55 L72.15,400.50 L71.90,400.45 L71.65,400.39 L71.40,400.34 L71.15,400.28 L70.90,400.23 L70.65,400.17 L70.40,400.11 L70.15,400.05 L69.90,399.99 L69.65,399.93 L69.40,399.87 L69.15,399.80 L68.90,399.74 L68.65,399.68 L68.40,399.61 L68.15,399.54 L67.90,399.48 L67.65,399.41 L67.40,399.34 L67.15,399.27 L66.90,399.20 L66.65,399.12 L66.40,399.05 L66.15,398.98 L65.90,398.90 L65.65,398.82 L65.40,398.75 L65.15,398.67 L64.90,398.59 L64.65,398.51 L64.40,398.43 L64.15,398.34 L63.90,398.26 L63.65,398.17 L63.40,398.09 L63.15,398.00 L62.90,397.91 L62.65,397.82 L62.40,397.73 L62.15,397.64 L61.90,397.54 L61.65,397.45 L61.40,397.35 L61.15,397.25 L60.90,397.15 L60.65,397.05 L60.40,396.95 L60.15,396.85 L59.90,396.74 L59.65,396.64 L59.40,396.53 L59.15,396.42 L58.90,396.31 L58.65,396.20 L58.40,396.08 L58.15,395.97 L57.90,395.85 L57.65,395.73 L57.40,395.61 L57.15,395.49 L56.90,395.37 L56.65,395.24 L56.40,395.12 L56.15,394.99 L55.90,394.86 L55.65,394.72 L55.40,394.59 L55.15,394.45 L54.90,394.32 L54.65,394.18 L54.40,394.03 L54.15,393.89 L53.90,393.74 L53.65,393.60 L53.40,393.45 L53.15,393.29 L52.90,393.14 L52.65,392.98 L52.40,392.82 L52.15,392.66 L51.90,392.50 L51.65,392.33 L51.40,392.16 L51.15,391.99 L50.90,391.82 L50.65,391.64 L50.40,391.46 L50.15,391.28 L49.90,391.09 L49.65,390.90 L49.40,390.71 L49.15,390.52 L48.90,390.32 L48.65,390.12 L48.40,389.92 L48.15,389.71 L47.90,389.50 L47.65,389.28 L47.40,389.07 L47.15,388.85 L46.90,388.62 L46.65,388.39 L46.40,388.16 L46.15,387.93 L45.90,387.69 L45.65,387.44 L45.40,387.19 L45.15,386.94 L44.90,386.69 L44.65,386.42 L44.40,386.16 L44.15,385.89 L43.90,385.61 L43.65,385.33 L43.40,385.05 L43.15,384.76 L42.90,384.46 L42.65,384.16 L42.40,383.86 L42.15,383.55 L41.90,383.23 L41.65,382.91 L41.40,382.58 L41.15,382.24 L40.90,381.90 L40.65,381.56 L40.40,381.20 L40.15,380.84 L39.90,380.48 L39.65,380.10 L39.40,379.72 L39.15,379.34 L38.90,378.94 L38.65,378.54 L38.40,378.13 L38.15,377.71 L37.90,377.29 L37.65,376.86 L37.40,376.42 L37.15,375.97 L36.90,375.51 L36.65,375.04 L36.40,374.57 L36.15,374.09 L35.90,373.59 L35.65,373.09 L35.40,372.58 L35.15,372.06 L34.90,371.53 L34.65,366.61 L34.40,368.53 L34.15,379.17 L33.90,380.11 L33.65,385.89 L33.40,386.75 L33.15,388.42 L32.90,388.12 L32.65,387.81 L32.40,387.50 L32.15,387.17 L31.90,386.83 L31.65,386.48 L31.40,386.12 L31.15,385.75 L30.90,385.37 L30.65,384.97 L30.40,384.56 L30.15,384.15 L29.90,383.72 L29.65,383.28 L29.40,382.82 L29.15,382.36 L28.90,381.89 L28.65,381.40 L28.40,380.90 L28.15,380.39 L27.90,379.87 L27.65,379.34 L27.40,378.80 L27.15,378.25 L26.90,377.69 L26.65,377.11 L26.40,376.53 L26.15,375.94 L25.90,375.30 L25.65,374.59 L25.40,373.87 L25.15,373.14 L24.90,372.39 L24.65,371.64 L24.40,370.87 L24.15,370.09 L23.90,369.30 L23.65,368.50 L23.40,367.69 L23.15,366.86 L22.90,366.03 L22.65,365.18 L22.40,364.32 L22.15,363.44 L21.90,362.55 L21.65,361.65 L21.40,360.74 L21.15,359.81 L20.90,358.86 L20.65,357.90 L20.40,356.93 L20.15,355.94 L19.90,354.93 L19.65,353.91 L19.40,352.87 L19.15,351.82 L18.90,350.74 L18.65,349.65 L18.40,348.37 L18.15,347.25 L17.90,346.12 L17.65,344.96 L17.40,338.80 L18.00,403.90 L6.10,403.90Z" fill="#4db2ef" stroke="#4db2ef" stroke-width="0.6" stroke-linejoin="round"/>
<path d="M6.10,401.80 L6.35,401.80 L6.60,401.80 L6.85,401.80 L7.10,401.80 L7.35,401.80 L7.60,401.80 L7.85,401.80 L8.10,401.80 L8.35,401.80 L8.60,401.80 L8.85,401.80 L9.10,401.80 L9.35,401.80 L9.60,401.80 L9.85,401.80 L10.10,401.80 L10.35,401.80 L10.60,401.80 L10.85,401.80 L11.10,401.80 L11.35,401.80 L11.60,401.80 L11.85,401.80 L12.10,401.80 L12.35,401.80 L12.60,401.80 L12.85,401.80 L13.10,401.80 L13.35,401.80 L13.60,401.80 L13.85,401.80 L14.10,401.80 L14.35,401.80 L14.60,401.80 L14.85,401.80 L15.10,401.80 L15.35,401.80 L15.60,401.80 L15.85,401.80 L16.10,401.80 L16.35,401.80 L16.60,394.52 L16.85,376.33 L17.10,358.13 L17.35,339.94 L17.60,337.25 L17.85,338.41 L18.10,339.55 L18.35,340.67 L18.60,341.77 L18.85,342.85 L19.10,343.91 L19.35,344.96 L19.60,345.98 L19.85,346.98 L20.10,347.97 L20.35,348.94 L20.60,349.89 L20.85,350.83 L21.10,351.75 L21.35,352.65 L21.60,353.53 L21.85,354.40 L22.10,355.25 L22.35,356.09 L22.60,356.92 L22.85,357.72 L23.10,358.52 L23.35,359.30 L23.60,360.06 L23.85,360.81 L24.10,361.55 L24.35,362.28 L24.60,362.99 L24.85,363.69 L25.10,364.37 L25.35,365.05 L25.60,365.71 L25.85,366.36 L26.10,367.00 L26.35,367.62 L26.60,368.24 L26.85,368.84 L27.10,369.44 L27.35,370.02 L27.60,370.59 L27.85,371.15 L28.10,371.71 L28.35,372.25 L28.60,372.78 L28.85,373.30 L29.10,373.82 L29.35,374.32 L29.60,374.81 L29.85,375.30 L30.10,375.78 L30.35,376.25 L30.60,376.71 L30.85,377.16 L31.10,377.60 L31.35,378.04 L31.60,378.47 L31.85,378.89 L32.10,379.30 L32.35,379.70 L32.60,380.10 L32.85,380.49 L33.10,380.88 L33.35,381.25 L33.60,381.62 L33.85,375.85 L34.10,370.06 L34.35,364.28 L34.60,361.07 L34.85,361.73 L35.10,362.37 L35.35,363.01 L35.60,363.64 L35.85,364.25 L36.10,364.86 L36.35,365.46 L36.60,366.04 L36.85,366.62 L37.10,367.19 L37.35,367.75 L37.60,368.30 L37.85,368.84 L38.10,369.37 L38.35,369.89 L38.60,370.41 L38.85,370.91 L39.10,371.41 L39.35,371.90 L39.60,372.38 L39.85,372.86 L40.10,373.32 L40.35,373.78 L40.60,374.23 L40.85,374.68 L41.10,375.11 L41.35,375.54 L41.60,375.96 L41.85,376.38 L42.10,376.79 L42.35,377.19 L42.60,377.59 L42.85,377.98 L43.10,378.36 L43.35,378.74 L43.60,379.11 L43.85,379.47 L44.10,379.83 L44.35,380.18 L44.60,380.53 L44.85,380.87 L45.10,381.21 L45.35,381.54 L45.60,381.86 L45.85,382.18 L46.10,382.50 L46.35,382.81 L46.60,383.11 L46.85,383.41 L47.10,383.70 L47.35,383.99 L47.60,384.28 L47.85,384.56 L48.10,384.84 L48.35,385.11 L48.60,385.38 L48.85,385.64 L49.10,385.90 L49.35,386.15 L49.60,386.40 L49.85,386.65 L50.10,386.89 L50.35,387.13 L50.60,387.36 L50.85,387.59 L51.10,387.82 L51.35,388.04 L51.60,388.26 L51.85,388.48 L52.10,388.69 L52.35,388.90 L52.60,389.11 L52.85,389.31 L53.10,389.51 L53.35,389.71 L53.60,389.90 L53.85,390.09 L54.10,390.28 L54.35,390.46 L54.60,390.64 L54.85,390.82 L55.10,390.99 L55.35,391.16 L55.60,391.33 L55.85,391.50 L56.10,391.67 L56.35,391.83 L56.60,391.99 L56.85,392.14 L57.10,392.30 L57.35,392.45 L57.60,392.60 L57.85,392.74 L58.10,392.89 L58.35,393.03 L58.60,393.17 L58.85,393.30 L59.10,393.44 L59.35,393.57 L59.60,393.70 L59.85,393.83 L60.10,393.96 L60.35,394.08 L60.60,394.20 L60.85,394.33 L61.10,394.44 L61.35,394.56 L61.60,394.68 L61.85,394.79 L62.10,394.90 L62.35,395.01 L62.60,395.12 L62.85,395.22 L63.10,395.33 L63.35,395.43 L63.60,395.53 L63.85,395.63 L64.10,395.73 L64.35,395.82 L64.60,395.92 L64.85,396.01 L65.10,396.10 L65.35,396.19 L65.60,396.28 L65.85,396.37 L66.10,396.45 L66.35,396.54 L66.60,396.62 L66.85,396.70 L67.10,396.78 L67.35,396.86 L67.60,396.94 L67.85,397.02 L68.10,397.09 L68.35,397.17 L68.60,397.24 L68.85,397.31 L69.10,397.38 L69.35,397.45 L69.60,397.52 L69.85,397.59 L70.10,397.66 L70.35,397.72 L70.60,397.79 L70.85,397.85 L71.10,397.91 L71.35,397.97 L71.60,398.03 L71.85,398.09 L72.10,398.15 L72.35,398.21 L72.60,398.26 L72.85,398.32 L73.10,398.38 L73.35,398.43 L73.60,398.48 L73.85,398.53 L74.10,398.59 L74.35,398.64 L74.60,398.69 L74.85,398.73 L75.10,398.78 L75.35,398.83 L75.60,398.88 L75.85,398.92 L76.10,398.97 L76.35,399.01 L76.60,399.06 L76.85,399.10 L77.10,399.14 L77.35,399.18 L77.60,399.22 L77.85,399.27 L78.10,399.30 L78.35,399.34 L78.60,399.38 L78.85,399.42 L79.10,399.46 L79.35,399.49 L79.60,399.53 L79.85,399.57 L80.10,399.60 L80.35,399.64 L80.60,399.67 L80.85,399.70 L81.10,399.74 L81.35,399.77 L81.60,399.80 L81.85,399.83 L82.10,399.86 L82.35,399.89 L82.60,399.92 L82.85,399.95 L83.10,399.98 L83.35,400.01 L83.60,400.04 L83.85,400.06" fill="none" stroke="#111" stroke-width="1.9" stroke-linejoin="round"/>
<path d="M103.50,399.50 L113.20,399.50 L113.30,319.00 L114.40,318.50 L114.40,323.50 L114.65,319.93 L114.90,321.32 L115.15,322.68 L115.40,324.02 L115.65,325.32 L115.90,326.60 L116.15,327.86 L116.40,329.09 L116.65,330.29 L116.90,331.48 L117.15,332.63 L117.40,333.77 L117.65,334.88 L117.90,335.97 L118.15,337.04 L118.40,338.09 L118.65,339.11 L118.90,340.12 L119.15,341.11 L119.40,342.07 L119.65,343.02 L119.90,343.95 L120.15,344.87 L120.40,345.76 L120.65,346.64 L120.90,347.50 L121.15,348.34 L121.40,349.17 L121.65,349.98 L121.90,350.78 L122.15,351.56 L122.40,352.33 L122.65,353.08 L122.90,353.82 L123.15,354.54 L123.40,355.32 L123.65,356.14 L123.90,356.94 L124.15,357.73 L124.40,358.50 L124.65,359.25 L124.90,360.00 L125.15,360.72 L125.40,361.44 L125.65,362.14 L125.90,362.82 L126.15,363.50 L126.40,364.16 L126.65,364.80 L126.90,365.44 L127.15,366.06 L127.40,366.67 L127.65,367.27 L127.90,367.86 L128.15,368.43 L128.40,369.00 L128.65,369.55 L128.90,370.10 L129.15,370.63 L129.40,371.15 L129.65,371.67 L129.90,372.17 L130.15,372.66 L130.40,373.15 L130.65,373.62 L130.90,376.24 L131.15,371.82 L131.40,359.36 L131.65,356.57 L131.90,348.93 L132.15,349.94 L132.40,346.08 L132.65,347.03 L132.90,347.95 L133.15,348.84 L133.40,349.70 L133.65,350.55 L133.90,351.36 L134.15,352.16 L134.40,352.93 L134.65,353.68 L134.90,354.41 L135.15,355.20 L135.40,356.06 L135.65,356.90 L135.90,357.71 L136.15,358.50 L136.40,359.26 L136.65,360.01 L136.90,360.73 L137.15,361.43 L137.40,362.12 L137.65,362.78 L137.90,363.43 L138.15,364.06 L138.40,364.68 L138.65,365.27 L138.90,365.86 L139.15,366.43 L139.40,366.98 L139.65,367.52 L139.90,368.05 L140.15,368.56 L140.40,369.06 L140.65,369.55 L140.90,370.03 L141.15,370.50 L141.40,370.96 L141.65,371.40 L141.90,371.84 L142.15,372.27 L142.40,372.68 L142.65,373.09 L142.90,373.49 L143.15,373.88 L143.40,374.27 L143.65,374.64 L143.90,375.01 L144.15,375.37 L144.40,375.72 L144.65,376.06 L144.90,376.40 L145.15,376.73 L145.40,377.06 L145.65,377.37 L145.90,377.69 L146.15,377.99 L146.40,378.29 L146.65,378.59 L146.90,378.88 L147.15,379.16 L147.40,379.44 L147.65,379.71 L147.90,379.98 L148.15,380.25 L148.40,380.51 L148.65,380.76 L148.90,381.01 L149.15,381.26 L149.40,381.50 L149.65,381.74 L149.90,381.97 L150.15,382.20 L150.40,382.43 L150.65,382.65 L150.90,382.87 L151.15,383.08 L151.40,383.29 L151.65,383.50 L151.90,383.71 L152.15,383.91 L152.40,384.11 L152.65,384.30 L152.90,384.49 L153.15,384.68 L153.40,384.87 L153.65,385.05 L153.90,385.23 L154.15,385.41 L154.40,385.58 L154.65,385.76 L154.90,385.93 L155.15,386.09 L155.40,386.26 L155.65,386.42 L155.90,386.58 L156.15,386.74 L156.40,386.89 L156.65,387.05 L156.90,387.20 L157.15,387.35 L157.40,387.49 L157.65,387.64 L157.90,387.78 L158.15,387.92 L158.40,388.06 L158.65,388.19 L158.90,388.33 L159.15,388.46 L159.40,388.59 L159.65,388.72 L159.90,388.85 L160.15,388.97 L160.40,389.10 L160.65,389.22 L160.90,389.34 L161.15,389.46 L161.40,389.58 L161.65,389.69 L161.90,389.81 L162.15,389.92 L162.40,390.03 L162.65,390.14 L162.90,390.25 L163.15,390.35 L163.40,390.46 L163.65,390.56 L163.90,390.66 L164.15,390.77 L164.40,390.86 L164.65,390.96 L164.90,391.06 L165.15,391.16 L165.40,391.25 L165.65,391.34 L165.90,391.44 L166.15,391.53 L166.40,391.62 L166.65,391.71 L166.90,391.79 L167.15,391.88 L167.40,391.97 L167.65,392.05 L167.90,392.13 L168.15,392.22 L168.40,392.30 L168.65,392.38 L168.90,392.46 L169.15,392.53 L169.40,392.61 L169.65,392.69 L169.90,392.76 L170.15,392.84 L170.40,392.91 L170.65,392.98 L170.90,393.05 L171.15,393.13 L171.40,393.20 L171.65,393.26 L171.90,393.33 L172.15,393.40 L172.40,393.47 L172.65,393.53 L172.90,393.60 L173.15,393.66 L173.40,393.72 L173.65,393.79 L173.90,393.85 L174.15,393.91 L174.40,393.97 L174.65,394.03 L174.90,394.09 L175.15,394.15 L175.40,394.21 L175.65,394.26 L175.90,394.32 L176.15,394.37 L176.40,394.43 L176.65,394.48 L176.90,394.54 L177.15,394.59 L177.40,394.64 L177.65,394.69 L177.90,394.74 L178.15,394.80 L178.40,394.85 L178.65,394.89 L178.90,394.94 L179.15,394.99 L179.40,395.04 L179.65,395.09 L179.90,395.13 L180.15,395.18 L180.40,395.22 L180.65,395.27 L180.90,395.31 L181.15,395.36 L181.40,395.40 L181.40,399.87 L181.15,399.83 L180.90,399.79 L180.65,399.75 L180.40,399.70 L180.15,399.66 L179.90,399.62 L179.65,399.58 L179.40,399.53 L179.15,399.49 L178.90,399.45 L178.65,399.40 L178.40,399.36 L178.15,399.31 L177.90,399.27 L177.65,399.22 L177.40,399.17 L177.15,399.12 L176.90,399.08 L176.65,399.03 L176.40,398.98 L176.15,398.93 L175.90,398.88 L175.65,398.83 L175.40,398.77 L175.15,398.72 L174.90,398.67 L174.65,398.62 L174.40,398.56 L174.15,398.51 L173.90,398.45 L173.65,398.40 L173.40,398.34 L173.15,398.28 L172.90,398.22 L172.65,398.17 L172.40,398.11 L172.15,398.05 L171.90,397.99 L171.65,397.92 L171.40,397.86 L171.15,397.80 L170.90,397.74 L170.65,397.67 L170.40,397.61 L170.15,397.54 L169.90,397.48 L169.65,397.41 L169.40,397.34 L169.15,397.27 L168.90,397.20 L168.65,397.13 L168.40,397.06 L168.15,396.99 L167.90,396.92 L167.65,396.85 L167.40,396.77 L167.15,396.70 L166.90,396.62 L166.65,396.55 L166.40,396.47 L166.15,396.39 L165.90,396.31 L165.65,396.23 L165.40,396.15 L165.15,396.07 L164.90,395.99 L164.65,395.90 L164.40,395.82 L164.15,395.73 L163.90,395.65 L163.65,395.56 L163.40,395.47 L163.15,395.38 L162.90,395.29 L162.65,395.20 L162.40,395.11 L162.15,395.02 L161.90,394.92 L161.65,394.83 L161.40,394.73 L161.15,394.64 L160.90,394.54 L160.65,394.44 L160.40,394.34 L160.15,394.24 L159.90,394.14 L159.65,394.04 L159.40,393.93 L159.15,393.83 L158.90,393.72 L158.65,393.61 L158.40,393.50 L158.15,393.39 L157.90,393.28 L157.65,393.17 L157.40,393.06 L157.15,392.94 L156.90,392.83 L156.65,392.71 L156.40,392.59 L156.15,392.48 L155.90,392.35 L155.65,392.23 L155.40,392.11 L155.15,391.99 L154.90,391.86 L154.65,391.73 L154.40,391.60 L154.15,391.47 L153.90,391.34 L153.65,391.21 L153.40,391.08 L153.15,390.94 L152.90,390.80 L152.65,390.67 L152.40,390.53 L152.15,390.38 L151.90,390.24 L151.65,390.10 L151.40,389.95 L151.15,389.80 L150.90,389.65 L150.65,389.50 L150.40,389.35 L150.15,389.19 L149.90,389.04 L149.65,388.88 L149.40,388.72 L149.15,388.56 L148.90,388.39 L148.65,388.23 L148.40,388.06 L148.15,387.89 L147.90,387.71 L147.65,387.54 L147.40,387.36 L147.15,387.18 L146.90,387.00 L146.65,386.82 L146.40,386.63 L146.15,386.45 L145.90,386.26 L145.65,386.06 L145.40,385.87 L145.15,385.67 L144.90,385.47 L144.65,385.27 L144.40,385.06 L144.15,384.85 L143.90,384.64 L143.65,384.42 L143.40,384.21 L143.15,383.99 L142.90,383.76 L142.65,383.54 L142.40,383.31 L142.15,383.07 L141.90,382.84 L141.65,382.60 L141.40,382.35 L141.15,382.11 L140.90,381.86 L140.65,381.60 L140.40,381.34 L140.15,381.08 L139.90,380.82 L139.65,380.55 L139.40,380.27 L139.15,380.00 L138.90,379.71 L138.65,379.43 L138.40,379.14 L138.15,378.84 L137.90,378.54 L137.65,378.24 L137.40,377.93 L137.15,377.61 L136.90,377.29 L136.65,376.97 L136.40,376.64 L136.15,376.31 L135.90,375.97 L135.65,375.62 L135.40,375.27 L135.15,374.92 L134.90,374.55 L134.65,374.19 L134.40,373.81 L134.15,373.44 L133.90,373.05 L133.65,372.66 L133.40,372.26 L133.15,371.86 L132.90,371.45 L132.65,371.03 L132.40,370.61 L132.15,367.12 L131.90,366.61 L131.65,371.69 L131.40,381.61 L131.15,381.83 L130.90,384.72 L130.65,386.29 L130.40,385.99 L130.15,385.69 L129.90,385.38 L129.65,385.05 L129.40,384.72 L129.15,384.38 L128.90,384.03 L128.65,383.67 L128.40,383.30 L128.15,382.92 L127.90,382.53 L127.65,382.13 L127.40,381.72 L127.15,381.30 L126.90,380.87 L126.65,380.42 L126.40,379.97 L126.15,379.51 L125.90,379.04 L125.65,378.56 L125.40,378.07 L125.15,377.57 L124.90,377.07 L124.65,376.55 L124.40,376.02 L124.15,375.49 L123.90,374.94 L123.65,374.39 L123.40,373.82 L123.15,373.25 L122.90,372.67 L122.65,372.08 L122.40,371.49 L122.15,370.88 L121.90,370.25 L121.65,369.53 L121.40,368.81 L121.15,368.08 L120.90,367.34 L120.65,366.59 L120.40,365.83 L120.15,365.06 L119.90,364.28 L119.65,363.49 L119.40,362.68 L119.15,361.87 L118.90,361.04 L118.65,360.20 L118.40,359.35 L118.15,358.49 L117.90,357.61 L117.65,356.72 L117.40,355.82 L117.15,354.91 L116.90,353.98 L116.65,353.04 L116.40,352.08 L116.15,351.11 L115.90,350.12 L115.65,349.12 L115.40,347.98 L115.15,346.96 L114.90,345.92 L114.65,344.86 L114.40,338.80 L115.00,403.50 L103.50,403.50Z" fill="#4db2ef" stroke="#4db2ef" stroke-width="0.6" stroke-linejoin="round"/>
<path d="M103.50,401.50 L103.75,401.50 L104.00,401.50 L104.25,401.50 L104.50,401.50 L104.75,401.50 L105.00,401.50 L105.25,401.50 L105.50,401.50 L105.75,401.50 L106.00,401.50 L106.25,401.50 L106.50,401.50 L106.75,401.50 L107.00,401.50 L107.25,401.50 L107.50,401.50 L107.75,401.50 L108.00,401.50 L108.25,401.50 L108.50,401.50 L108.75,401.50 L109.00,401.50 L109.25,401.50 L109.50,401.50 L109.75,401.50 L110.00,401.50 L110.25,401.50 L110.50,401.50 L110.75,401.50 L111.00,401.50 L111.25,401.50 L111.50,401.50 L111.75,401.50 L112.00,401.50 L112.25,401.50 L112.50,401.50 L112.75,401.50 L113.00,401.50 L113.25,401.50 L113.50,401.50 L113.75,383.39 L114.00,365.28 L114.25,347.17 L114.50,336.73 L114.75,337.80 L115.00,338.86 L115.25,339.89 L115.50,340.91 L115.75,341.91 L116.00,342.90 L116.25,343.87 L116.50,344.82 L116.75,345.76 L117.00,346.68 L117.25,347.58 L117.50,348.48 L117.75,349.35 L118.00,350.21 L118.25,351.06 L118.50,351.90 L118.75,352.72 L119.00,353.52 L119.25,354.31 L119.50,355.09 L119.75,355.86 L120.00,356.62 L120.25,357.36 L120.50,358.09 L120.75,358.81 L121.00,359.51 L121.25,360.21 L121.50,360.89 L121.75,361.56 L122.00,362.22 L122.25,362.87 L122.50,363.51 L122.75,364.14 L123.00,364.75 L123.25,365.36 L123.50,365.96 L123.75,366.55 L124.00,367.12 L124.25,367.69 L124.50,368.25 L124.75,368.80 L125.00,369.34 L125.25,369.87 L125.50,370.40 L125.75,370.91 L126.00,371.42 L126.25,371.91 L126.50,372.40 L126.75,372.88 L127.00,373.36 L127.25,373.82 L127.50,374.28 L127.75,374.73 L128.00,375.17 L128.25,375.61 L128.50,376.03 L128.75,376.46 L129.00,376.87 L129.25,377.28 L129.50,377.68 L129.75,378.07 L130.00,378.46 L130.25,378.84 L130.50,379.21 L130.75,379.58 L131.00,379.94 L131.25,374.88 L131.50,369.82 L131.75,364.75 L132.00,361.91 L132.25,362.42 L132.50,362.92 L132.75,363.42 L133.00,363.91 L133.25,364.40 L133.50,364.88 L133.75,365.35 L134.00,365.81 L134.25,366.27 L134.50,366.72 L134.75,367.17 L135.00,367.61 L135.25,368.04 L135.50,368.47 L135.75,368.89 L136.00,369.30 L136.25,369.71 L136.50,370.12 L136.75,370.52 L137.00,370.91 L137.25,371.30 L137.50,371.68 L137.75,372.06 L138.00,372.43 L138.25,372.79 L138.50,373.16 L138.75,373.51 L139.00,373.86 L139.25,374.21 L139.50,374.55 L139.75,374.89 L140.00,375.23 L140.25,375.55 L140.50,375.88 L140.75,376.20 L141.00,376.51 L141.25,376.82 L141.50,377.13 L141.75,377.43 L142.00,377.73 L142.25,378.03 L142.50,378.32 L142.75,378.61 L143.00,378.89 L143.25,379.17 L143.50,379.44 L143.75,379.72 L144.00,379.98 L144.25,380.25 L144.50,380.51 L144.75,380.77 L145.00,381.02 L145.25,381.27 L145.50,381.52 L145.75,381.76 L146.00,382.00 L146.25,382.24 L146.50,382.48 L146.75,382.71 L147.00,382.94 L147.25,383.16 L147.50,383.38 L147.75,383.60 L148.00,383.82 L148.25,384.03 L148.50,384.24 L148.75,384.45 L149.00,384.66 L149.25,384.86 L149.50,385.06 L149.75,385.26 L150.00,385.45 L150.25,385.65 L150.50,385.83 L150.75,386.02 L151.00,386.21 L151.25,386.39 L151.50,386.57 L151.75,386.75 L152.00,386.92 L152.25,387.10 L152.50,387.27 L152.75,387.44 L153.00,387.60 L153.25,387.77 L153.50,387.93 L153.75,388.09 L154.00,388.25 L154.25,388.40 L154.50,388.56 L154.75,388.71 L155.00,388.86 L155.25,389.01 L155.50,389.16 L155.75,389.30 L156.00,389.44 L156.25,389.58 L156.50,389.72 L156.75,389.86 L157.00,390.00 L157.25,390.13 L157.50,390.26 L157.75,390.39 L158.00,390.52 L158.25,390.65 L158.50,390.77 L158.75,390.90 L159.00,391.02 L159.25,391.14 L159.50,391.26 L159.75,391.38 L160.00,391.50 L160.25,391.61 L160.50,391.72 L160.75,391.84 L161.00,391.95 L161.25,392.06 L161.50,392.16 L161.75,392.27 L162.00,392.38 L162.25,392.48 L162.50,392.58 L162.75,392.68 L163.00,392.78 L163.25,392.88 L163.50,392.98 L163.75,393.08 L164.00,393.17 L164.25,393.27 L164.50,393.36 L164.75,393.45 L165.00,393.54 L165.25,393.63 L165.50,393.72 L165.75,393.81 L166.00,393.90 L166.25,393.98 L166.50,394.07 L166.75,394.15 L167.00,394.23 L167.25,394.31 L167.50,394.39 L167.75,394.47 L168.00,394.55 L168.25,394.63 L168.50,394.70 L168.75,394.78 L169.00,394.85 L169.25,394.93 L169.50,395.00 L169.75,395.07 L170.00,395.14 L170.25,395.21 L170.50,395.28 L170.75,395.35 L171.00,395.42 L171.25,395.49 L171.50,395.55 L171.75,395.62 L172.00,395.68 L172.25,395.75 L172.50,395.81 L172.75,395.87 L173.00,395.93 L173.25,396.00 L173.50,396.06 L173.75,396.11 L174.00,396.17 L174.25,396.23 L174.50,396.29 L174.75,396.35 L175.00,396.40 L175.25,396.46 L175.50,396.51 L175.75,396.57 L176.00,396.62 L176.25,396.67 L176.50,396.72 L176.75,396.78 L177.00,396.83 L177.25,396.88 L177.50,396.93 L177.75,396.98 L178.00,397.03 L178.25,397.07 L178.50,397.12 L178.75,397.17 L179.00,397.21 L179.25,397.26 L179.50,397.31 L179.75,397.35 L180.00,397.39 L180.25,397.44 L180.50,397.48 L180.75,397.52 L181.00,397.57 L181.25,397.61 L181.50,397.65" fill="none" stroke="#111" stroke-width="1.9" stroke-linejoin="round"/>
<path d="M6.50,520.20 L16.70,520.20 L16.80,427.00 L17.90,426.50 L17.90,433.01 L18.15,428.55 L18.40,430.53 L18.65,432.45 L18.90,434.34 L19.15,436.17 L19.40,437.97 L19.65,439.72 L19.90,441.43 L20.15,443.10 L20.40,444.73 L20.65,446.33 L20.90,447.88 L21.15,449.40 L21.40,450.89 L21.65,452.33 L21.90,453.75 L22.15,455.13 L22.40,456.48 L22.65,457.80 L22.90,459.09 L23.15,460.34 L23.40,461.57 L23.65,462.77 L23.90,463.94 L24.15,465.08 L24.40,466.20 L24.65,467.29 L24.90,468.36 L25.15,469.40 L25.40,470.41 L25.65,471.41 L25.90,472.38 L26.15,473.32 L26.40,474.25 L26.65,475.15 L26.90,476.04 L27.15,476.90 L27.40,477.74 L27.65,478.57 L27.90,479.37 L28.15,480.16 L28.40,480.92 L28.65,481.67 L28.90,482.41 L29.15,483.22 L29.40,484.11 L29.65,484.97 L29.90,485.82 L30.15,486.65 L30.40,487.45 L30.65,488.24 L30.90,489.01 L31.15,489.76 L31.40,490.49 L31.65,491.21 L31.90,491.90 L32.15,492.58 L32.40,493.25 L32.65,493.89 L32.90,494.53 L33.15,495.14 L33.40,495.74 L33.65,496.33 L33.90,496.90 L34.15,497.46 L34.40,501.00 L34.65,499.58 L34.90,490.80 L35.15,475.91 L35.40,473.20 L35.65,470.42 L35.90,465.56 L36.15,466.74 L36.40,467.88 L36.65,468.99 L36.90,470.06 L37.15,471.10 L37.40,472.11 L37.65,473.09 L37.90,474.04 L38.15,474.97 L38.40,475.86 L38.65,476.73 L38.90,477.57 L39.15,478.39 L39.40,479.19 L39.65,479.97 L39.90,480.72 L40.15,481.45 L40.40,482.32 L40.65,483.22 L40.90,484.10 L41.15,484.95 L41.40,485.78 L41.65,486.58 L41.90,487.36 L42.15,488.12 L42.40,488.85 L42.65,489.57 L42.90,490.26 L43.15,490.93 L43.40,491.59 L43.65,492.22 L43.90,492.84 L44.15,493.44 L44.40,494.03 L44.65,494.60 L44.90,495.15 L45.15,495.69 L45.40,496.21 L45.65,496.72 L45.90,497.22 L46.15,497.70 L46.40,498.17 L46.65,498.63 L46.90,499.08 L47.15,499.52 L47.40,499.94 L47.65,500.35 L47.90,500.76 L48.15,501.15 L48.40,501.53 L48.65,501.91 L48.90,502.27 L49.15,502.63 L49.40,502.98 L49.65,503.31 L49.90,503.65 L50.15,503.97 L50.40,504.28 L50.65,504.59 L50.90,504.89 L51.15,505.19 L51.40,505.47 L51.65,505.75 L51.90,506.03 L52.15,506.29 L52.40,506.56 L52.65,506.81 L52.90,507.06 L53.15,507.30 L53.40,507.54 L53.65,507.78 L53.90,508.01 L54.15,508.23 L54.40,508.45 L54.65,508.66 L54.90,508.87 L55.15,509.08 L55.40,509.28 L55.65,509.47 L55.90,509.66 L56.15,509.85 L56.40,510.04 L56.65,510.22 L56.90,510.39 L57.15,510.57 L57.40,510.73 L57.65,510.90 L57.90,511.06 L58.15,511.22 L58.40,511.38 L58.65,511.53 L58.90,511.68 L59.15,511.83 L59.40,511.97 L59.65,512.11 L59.90,512.25 L60.15,512.39 L60.40,512.52 L60.65,512.65 L60.90,512.78 L61.15,512.90 L61.40,513.03 L61.65,513.15 L61.90,513.26 L62.15,513.38 L62.40,513.49 L62.65,513.61 L62.90,513.72 L63.15,513.82 L63.40,513.93 L63.65,514.03 L63.90,514.13 L64.15,514.23 L64.40,514.33 L64.65,514.43 L64.90,514.52 L65.15,514.62 L65.40,514.71 L65.65,514.80 L65.90,514.88 L66.15,514.97 L66.40,515.05 L66.65,515.14 L66.90,515.22 L67.15,515.30 L67.40,515.38 L67.65,515.46 L67.90,515.53 L68.15,515.61 L68.40,515.68 L68.65,515.75 L68.90,515.82 L69.15,515.89 L69.40,515.96 L69.65,516.03 L69.90,516.09 L70.15,516.16 L70.40,516.22 L70.65,516.29 L70.90,516.35 L71.15,516.41 L71.40,516.47 L71.65,516.53 L71.90,516.59 L72.15,516.64 L72.40,516.70 L72.65,516.75 L72.90,516.81 L73.15,516.86 L73.40,516.91 L73.65,516.96 L73.90,517.01 L74.15,517.06 L74.40,517.11 L74.65,517.16 L74.90,517.21 L75.15,517.25 L75.40,517.30 L75.65,517.34 L75.90,517.39 L76.15,517.43 L76.40,517.48 L76.65,517.52 L76.90,517.56 L77.15,517.60 L77.40,517.64 L77.65,517.68 L77.90,517.72 L78.15,517.76 L78.40,517.80 L78.65,517.83 L78.90,517.87 L79.15,517.90 L79.40,517.94 L79.65,517.98 L79.90,518.01 L80.15,518.04 L80.40,518.08 L80.65,518.11 L80.90,518.14 L81.15,518.17 L81.40,518.21 L81.65,518.24 L81.90,518.27 L82.15,518.30 L82.40,518.33 L82.65,518.35 L82.90,518.38 L83.15,518.41 L83.40,518.44 L83.65,518.47 L83.90,518.49 L83.90,523.52 L83.65,523.50 L83.40,523.48 L83.15,523.46 L82.90,523.44 L82.65,523.42 L82.40,523.39 L82.15,523.37 L81.90,523.35 L81.65,523.32 L81.40,523.30 L81.15,523.28 L80.90,523.25 L80.65,523.23 L80.40,523.20 L80.15,523.17 L79.90,523.15 L79.65,523.12 L79.40,523.09 L79.15,523.06 L78.90,523.04 L78.65,523.01 L78.40,522.98 L78.15,522.95 L77.90,522.92 L77.65,522.89 L77.40,522.85 L77.15,522.82 L76.90,522.79 L76.65,522.76 L76.40,522.72 L76.15,522.69 L75.90,522.65 L75.65,522.62 L75.40,522.58 L75.15,522.55 L74.90,522.51 L74.65,522.47 L74.40,522.43 L74.15,522.39 L73.90,522.35 L73.65,522.31 L73.40,522.27 L73.15,522.23 L72.90,522.19 L72.65,522.15 L72.40,522.10 L72.15,522.06 L71.90,522.01 L71.65,521.97 L71.40,521.92 L71.15,521.87 L70.90,521.83 L70.65,521.78 L70.40,521.73 L70.15,521.68 L69.90,521.63 L69.65,521.57 L69.40,521.52 L69.15,521.47 L68.90,521.41 L68.65,521.36 L68.40,521.30 L68.15,521.24 L67.90,521.19 L67.65,521.13 L67.40,521.07 L67.15,521.01 L66.90,520.95 L66.65,520.88 L66.40,520.82 L66.15,520.76 L65.90,520.69 L65.65,520.62 L65.40,520.56 L65.15,520.49 L64.90,520.42 L64.65,520.35 L64.40,520.28 L64.15,520.21 L63.90,520.13 L63.65,520.06 L63.40,519.98 L63.15,519.91 L62.90,519.83 L62.65,519.75 L62.40,519.67 L62.15,519.59 L61.90,519.50 L61.65,519.42 L61.40,519.33 L61.15,519.25 L60.90,519.16 L60.65,519.07 L60.40,518.98 L60.15,518.89 L59.90,518.79 L59.65,518.70 L59.40,518.60 L59.15,518.51 L58.90,518.41 L58.65,518.31 L58.40,518.20 L58.15,518.10 L57.90,518.00 L57.65,517.89 L57.40,517.78 L57.15,517.67 L56.90,517.56 L56.65,517.45 L56.40,517.33 L56.15,517.21 L55.90,517.09 L55.65,516.97 L55.40,516.85 L55.15,516.73 L54.90,516.60 L54.65,516.47 L54.40,516.34 L54.15,516.21 L53.90,516.07 L53.65,515.94 L53.40,515.80 L53.15,515.66 L52.90,515.51 L52.65,515.37 L52.40,515.22 L52.15,515.07 L51.90,514.92 L51.65,514.76 L51.40,514.60 L51.15,514.44 L50.90,514.28 L50.65,514.12 L50.40,513.95 L50.15,513.78 L49.90,513.60 L49.65,513.42 L49.40,513.24 L49.15,513.06 L48.90,512.87 L48.65,512.68 L48.40,512.49 L48.15,512.29 L47.90,512.09 L47.65,511.89 L47.40,511.68 L47.15,511.47 L46.90,511.26 L46.65,511.04 L46.40,510.82 L46.15,510.59 L45.90,510.36 L45.65,510.13 L45.40,509.89 L45.15,509.65 L44.90,509.40 L44.65,509.15 L44.40,508.89 L44.15,508.63 L43.90,508.37 L43.65,508.09 L43.40,507.82 L43.15,507.54 L42.90,507.25 L42.65,506.96 L42.40,506.66 L42.15,506.36 L41.90,506.05 L41.65,505.73 L41.40,505.41 L41.15,505.08 L40.90,504.75 L40.65,504.41 L40.40,504.06 L40.15,503.71 L39.90,503.34 L39.65,502.98 L39.40,502.60 L39.15,502.22 L38.90,501.83 L38.65,501.43 L38.40,501.02 L38.15,500.61 L37.90,500.18 L37.65,499.75 L37.40,499.31 L37.15,498.86 L36.90,498.40 L36.65,497.94 L36.40,497.46 L36.15,496.97 L35.90,496.48 L35.65,490.24 L35.40,492.17 L35.15,504.10 L34.90,503.83 L34.65,509.64 L34.40,510.49 L34.15,512.94 L33.90,512.66 L33.65,512.38 L33.40,512.08 L33.15,511.77 L32.90,511.45 L32.65,511.12 L32.40,510.78 L32.15,510.43 L31.90,510.06 L31.65,509.68 L31.40,509.29 L31.15,508.89 L30.90,508.47 L30.65,508.05 L30.40,507.61 L30.15,507.15 L29.90,506.69 L29.65,506.21 L29.40,505.71 L29.15,505.21 L28.90,504.62 L28.65,503.90 L28.40,503.17 L28.15,502.43 L27.90,501.67 L27.65,500.89 L27.40,500.10 L27.15,499.29 L26.90,498.47 L26.65,497.63 L26.40,496.77 L26.15,495.89 L25.90,495.00 L25.65,494.08 L25.40,493.15 L25.15,492.20 L24.90,491.23 L24.65,490.25 L24.40,489.24 L24.15,488.21 L23.90,487.16 L23.65,486.08 L23.40,484.99 L23.15,483.87 L22.90,482.73 L22.65,481.57 L22.40,480.38 L22.15,479.17 L21.90,477.93 L21.65,476.66 L21.40,475.37 L21.15,474.05 L20.90,472.70 L20.65,471.32 L20.40,469.91 L20.15,468.47 L19.90,467.00 L19.65,465.50 L19.40,463.96 L19.15,462.39 L18.90,460.67 L18.65,459.04 L18.40,457.37 L18.15,455.66 L17.90,447.44 L18.50,524.80 L6.50,524.80Z" fill="#f21d1d" stroke="#f21d1d" stroke-width="0.6" stroke-linejoin="round"/>
<path d="M6.50,522.50 L6.75,522.50 L7.00,522.50 L7.25,522.50 L7.50,522.50 L7.75,522.50 L8.00,522.50 L8.25,522.50 L8.50,522.50 L8.75,522.50 L9.00,522.50 L9.25,522.50 L9.50,522.50 L9.75,522.50 L10.00,522.50 L10.25,522.50 L10.50,522.50 L10.75,522.50 L11.00,522.50 L11.25,522.50 L11.50,522.50 L11.75,522.50 L12.00,522.50 L12.25,522.50 L12.50,522.50 L12.75,522.50 L13.00,522.50 L13.25,522.50 L13.50,522.50 L13.75,522.50 L14.00,522.50 L14.25,522.50 L14.50,522.50 L14.75,522.50 L15.00,522.50 L15.25,522.50 L15.50,522.50 L15.75,522.50 L16.00,522.50 L16.25,522.50 L16.50,522.50 L16.75,522.50 L17.00,522.50 L17.25,500.75 L17.50,479.00 L17.75,457.25 L18.00,444.91 L18.25,446.64 L18.50,448.34 L18.75,450.00 L19.00,451.63 L19.25,453.21 L19.50,454.76 L19.75,456.28 L20.00,457.76 L20.25,459.21 L20.50,460.63 L20.75,462.02 L21.00,463.37 L21.25,464.69 L21.50,465.99 L21.75,467.25 L22.00,468.49 L22.25,469.70 L22.50,470.88 L22.75,472.04 L23.00,473.17 L23.25,474.27 L23.50,475.35 L23.75,476.41 L24.00,477.44 L24.25,478.45 L24.50,479.43 L24.75,480.40 L25.00,481.34 L25.25,482.26 L25.50,483.16 L25.75,484.05 L26.00,484.91 L26.25,485.75 L26.50,486.57 L26.75,487.38 L27.00,488.16 L27.25,488.93 L27.50,489.68 L27.75,490.42 L28.00,491.14 L28.25,491.84 L28.50,492.52 L28.75,493.20 L29.00,493.85 L29.25,494.49 L29.50,495.12 L29.75,495.73 L30.00,496.33 L30.25,496.92 L30.50,497.49 L30.75,498.05 L31.00,498.60 L31.25,499.13 L31.50,499.66 L31.75,500.17 L32.00,500.67 L32.25,501.16 L32.50,501.64 L32.75,502.10 L33.00,502.56 L33.25,503.01 L33.50,503.44 L33.75,503.87 L34.00,504.29 L34.25,504.69 L34.50,505.09 L34.75,501.77 L35.00,495.95 L35.25,490.13 L35.50,484.30 L35.75,484.98 L36.00,485.65 L36.25,486.31 L36.50,486.95 L36.75,487.58 L37.00,488.20 L37.25,488.81 L37.50,489.41 L37.75,490.00 L38.00,490.57 L38.25,491.14 L38.50,491.69 L38.75,492.24 L39.00,492.77 L39.25,493.29 L39.50,493.81 L39.75,494.31 L40.00,494.81 L40.25,495.30 L40.50,495.77 L40.75,496.24 L41.00,496.70 L41.25,497.15 L41.50,497.60 L41.75,498.03 L42.00,498.46 L42.25,498.88 L42.50,499.29 L42.75,499.70 L43.00,500.09 L43.25,500.48 L43.50,500.87 L43.75,501.24 L44.00,501.61 L44.25,501.97 L44.50,502.33 L44.75,502.68 L45.00,503.02 L45.25,503.36 L45.50,503.69 L45.75,504.01 L46.00,504.33 L46.25,504.65 L46.50,504.95 L46.75,505.26 L47.00,505.55 L47.25,505.84 L47.50,506.13 L47.75,506.41 L48.00,506.69 L48.25,506.96 L48.50,507.22 L48.75,507.48 L49.00,507.74 L49.25,507.99 L49.50,508.24 L49.75,508.48 L50.00,508.72 L50.25,508.96 L50.50,509.19 L50.75,509.41 L51.00,509.63 L51.25,509.85 L51.50,510.07 L51.75,510.28 L52.00,510.48 L52.25,510.69 L52.50,510.89 L52.75,511.08 L53.00,511.28 L53.25,511.47 L53.50,511.65 L53.75,511.83 L54.00,512.01 L54.25,512.19 L54.50,512.36 L54.75,512.53 L55.00,512.70 L55.25,512.86 L55.50,513.03 L55.75,513.18 L56.00,513.34 L56.25,513.49 L56.50,513.64 L56.75,513.79 L57.00,513.94 L57.25,514.08 L57.50,514.22 L57.75,514.36 L58.00,514.49 L58.25,514.63 L58.50,514.76 L58.75,514.88 L59.00,515.01 L59.25,515.14 L59.50,515.26 L59.75,515.38 L60.00,515.49 L60.25,515.61 L60.50,515.72 L60.75,515.84 L61.00,515.95 L61.25,516.05 L61.50,516.16 L61.75,516.26 L62.00,516.37 L62.25,516.47 L62.50,516.57 L62.75,516.66 L63.00,516.76 L63.25,516.85 L63.50,516.95 L63.75,517.04 L64.00,517.13 L64.25,517.21 L64.50,517.30 L64.75,517.39 L65.00,517.47 L65.25,517.55 L65.50,517.63 L65.75,517.71 L66.00,517.79 L66.25,517.87 L66.50,517.94 L66.75,518.01 L67.00,518.09 L67.25,518.16 L67.50,518.23 L67.75,518.30 L68.00,518.37 L68.25,518.43 L68.50,518.50 L68.75,518.56 L69.00,518.63 L69.25,518.69 L69.50,518.75 L69.75,518.81 L70.00,518.87 L70.25,518.93 L70.50,518.99 L70.75,519.04 L71.00,519.10 L71.25,519.15 L71.50,519.21 L71.75,519.26 L72.00,519.31 L72.25,519.36 L72.50,519.41 L72.75,519.46 L73.00,519.51 L73.25,519.56 L73.50,519.61 L73.75,519.65 L74.00,519.70 L74.25,519.74 L74.50,519.79 L74.75,519.83 L75.00,519.87 L75.25,519.91 L75.50,519.96 L75.75,520.00 L76.00,520.04 L76.25,520.07 L76.50,520.11 L76.75,520.15 L77.00,520.19 L77.25,520.22 L77.50,520.26 L77.75,520.30 L78.00,520.33 L78.25,520.37 L78.50,520.40 L78.75,520.43 L79.00,520.46 L79.25,520.50 L79.50,520.53 L79.75,520.56 L80.00,520.59 L80.25,520.62 L80.50,520.65 L80.75,520.68 L81.00,520.71 L81.25,520.74 L81.50,520.76 L81.75,520.79 L82.00,520.82 L82.25,520.84 L82.50,520.87 L82.75,520.90 L83.00,520.92 L83.25,520.95 L83.50,520.97 L83.75,520.99 L84.00,521.02" fill="none" stroke="#111" stroke-width="1.9" stroke-linejoin="round"/>
<path d="M102.60,519.80 L113.30,519.80 L113.40,457.70 L114.50,457.20 L114.50,463.21 L114.75,458.31 L115.00,459.37 L115.25,460.42 L115.50,461.45 L115.75,462.45 L116.00,463.44 L116.25,464.41 L116.50,465.36 L116.75,466.29 L117.00,467.20 L117.25,468.09 L117.50,468.97 L117.75,469.83 L118.00,470.68 L118.25,471.50 L118.50,472.32 L118.75,473.11 L119.00,473.89 L119.25,474.66 L119.50,475.41 L119.75,476.15 L120.00,476.87 L120.25,477.70 L120.50,478.54 L120.75,479.37 L121.00,480.18 L121.25,480.98 L121.50,481.76 L121.75,482.52 L122.00,483.27 L122.25,484.00 L122.50,484.72 L122.75,485.43 L123.00,486.12 L123.25,486.79 L123.50,487.46 L123.75,488.11 L124.00,488.74 L124.25,489.37 L124.50,489.98 L124.75,490.58 L125.00,491.16 L125.25,491.74 L125.50,492.30 L125.75,492.85 L126.00,493.40 L126.25,493.93 L126.50,494.45 L126.75,494.95 L127.00,495.45 L127.25,495.94 L127.50,496.42 L127.75,496.89 L128.00,497.35 L128.25,497.80 L128.50,498.24 L128.75,498.67 L129.00,499.09 L129.25,499.51 L129.50,499.91 L129.75,500.31 L130.00,500.70 L130.25,501.08 L130.50,501.45 L130.75,503.49 L131.00,499.10 L131.25,487.80 L131.50,487.97 L131.75,483.64 L132.00,484.24 L132.25,480.43 L132.50,481.15 L132.75,481.85 L133.00,482.54 L133.25,483.21 L133.50,483.86 L133.75,484.49 L134.00,485.12 L134.25,485.72 L134.50,486.31 L134.75,486.89 L135.00,487.46 L135.25,488.01 L135.50,488.55 L135.75,489.07 L136.00,489.59 L136.25,490.09 L136.50,490.58 L136.75,491.06 L137.00,491.53 L137.25,491.99 L137.50,492.45 L137.75,492.89 L138.00,493.32 L138.25,493.74 L138.50,494.15 L138.75,494.56 L139.00,494.96 L139.25,495.34 L139.50,495.72 L139.75,496.10 L140.00,496.46 L140.25,496.82 L140.50,497.17 L140.75,497.52 L141.00,497.86 L141.25,498.19 L141.50,498.51 L141.75,498.83 L142.00,499.14 L142.25,499.45 L142.50,499.75 L142.75,500.05 L143.00,500.34 L143.25,500.62 L143.50,500.90 L143.75,501.17 L144.00,501.44 L144.25,501.71 L144.50,501.97 L144.75,502.22 L145.00,502.47 L145.25,502.72 L145.50,502.96 L145.75,503.20 L146.00,503.43 L146.25,503.66 L146.50,503.89 L146.75,504.11 L147.00,504.33 L147.25,504.54 L147.50,504.75 L147.75,504.96 L148.00,505.16 L148.25,505.36 L148.50,505.56 L148.75,505.75 L149.00,505.94 L149.25,506.13 L149.50,506.31 L149.75,506.50 L150.00,506.67 L150.25,506.85 L150.50,507.02 L150.75,507.19 L151.00,507.36 L151.25,507.52 L151.50,507.69 L151.75,507.85 L152.00,508.00 L152.25,508.16 L152.50,508.31 L152.75,508.46 L153.00,508.61 L153.25,508.75 L153.50,508.89 L153.75,509.03 L154.00,509.17 L154.25,509.31 L154.50,509.44 L154.75,509.58 L155.00,509.71 L155.25,509.84 L155.50,509.96 L155.75,510.09 L156.00,510.21 L156.25,510.33 L156.50,510.45 L156.75,510.57 L157.00,510.68 L157.25,510.80 L157.50,510.91 L157.75,511.02 L158.00,511.13 L158.25,511.24 L158.50,511.34 L158.75,511.45 L159.00,511.55 L159.25,511.65 L159.50,511.75 L159.75,511.85 L160.00,511.95 L160.25,512.04 L160.50,512.14 L160.75,512.23 L161.00,512.32 L161.25,512.41 L161.50,512.50 L161.75,512.59 L162.00,512.68 L162.25,512.76 L162.50,512.85 L162.75,512.93 L163.00,513.01 L163.25,513.10 L163.50,513.18 L163.75,513.25 L164.00,513.33 L164.25,513.41 L164.50,513.49 L164.75,513.56 L165.00,513.63 L165.25,513.71 L165.50,513.78 L165.75,513.85 L166.00,513.92 L166.25,513.99 L166.50,514.06 L166.75,514.12 L167.00,514.19 L167.25,514.25 L167.50,514.32 L167.75,514.38 L168.00,514.45 L168.25,514.51 L168.50,514.57 L168.75,514.63 L169.00,514.69 L169.25,514.75 L169.50,514.81 L169.75,514.86 L170.00,514.92 L170.25,514.98 L170.50,515.03 L170.75,515.09 L171.00,515.14 L171.25,515.19 L171.50,515.24 L171.75,515.30 L172.00,515.35 L172.25,515.40 L172.50,515.45 L172.75,515.50 L173.00,515.55 L173.25,515.59 L173.50,515.64 L173.75,515.69 L174.00,515.73 L174.25,515.78 L174.50,515.83 L174.75,515.87 L175.00,515.91 L175.25,515.96 L175.50,516.00 L175.75,516.04 L176.00,516.08 L176.25,516.13 L176.50,516.17 L176.75,516.21 L177.00,516.25 L177.25,516.29 L177.50,516.33 L177.75,516.36 L178.00,516.40 L178.25,516.44 L178.50,516.48 L178.75,516.51 L179.00,516.55 L179.25,516.59 L179.50,516.62 L179.75,516.66 L180.00,516.69 L180.25,516.72 L180.50,516.76 L180.75,516.79 L181.00,516.82 L181.25,516.86 L181.25,521.90 L181.00,521.87 L180.75,521.84 L180.50,521.81 L180.25,521.78 L180.00,521.75 L179.75,521.72 L179.50,521.69 L179.25,521.66 L179.00,521.63 L178.75,521.60 L178.50,521.57 L178.25,521.54 L178.00,521.50 L177.75,521.47 L177.50,521.44 L177.25,521.40 L177.00,521.37 L176.75,521.34 L176.50,521.30 L176.25,521.26 L176.00,521.23 L175.75,521.19 L175.50,521.16 L175.25,521.12 L175.00,521.08 L174.75,521.04 L174.50,521.00 L174.25,520.96 L174.00,520.92 L173.75,520.88 L173.50,520.84 L173.25,520.80 L173.00,520.76 L172.75,520.72 L172.50,520.67 L172.25,520.63 L172.00,520.59 L171.75,520.54 L171.50,520.50 L171.25,520.45 L171.00,520.41 L170.75,520.36 L170.50,520.31 L170.25,520.26 L170.00,520.22 L169.75,520.17 L169.50,520.12 L169.25,520.07 L169.00,520.02 L168.75,519.96 L168.50,519.91 L168.25,519.86 L168.00,519.80 L167.75,519.75 L167.50,519.70 L167.25,519.64 L167.00,519.58 L166.75,519.53 L166.50,519.47 L166.25,519.41 L166.00,519.35 L165.75,519.29 L165.50,519.23 L165.25,519.17 L165.00,519.11 L164.75,519.05 L164.50,518.98 L164.25,518.92 L164.00,518.85 L163.75,518.79 L163.50,518.72 L163.25,518.65 L163.00,518.58 L162.75,518.52 L162.50,518.45 L162.25,518.37 L162.00,518.30 L161.75,518.23 L161.50,518.16 L161.25,518.08 L161.00,518.01 L160.75,517.93 L160.50,517.85 L160.25,517.78 L160.00,517.70 L159.75,517.62 L159.50,517.54 L159.25,517.46 L159.00,517.37 L158.75,517.29 L158.50,517.20 L158.25,517.12 L158.00,517.03 L157.75,516.94 L157.50,516.86 L157.25,516.77 L157.00,516.67 L156.75,516.58 L156.50,516.49 L156.25,516.40 L156.00,516.30 L155.75,516.20 L155.50,516.11 L155.25,516.01 L155.00,515.91 L154.75,515.80 L154.50,515.70 L154.25,515.60 L154.00,515.49 L153.75,515.39 L153.50,515.28 L153.25,515.17 L153.00,515.06 L152.75,514.95 L152.50,514.83 L152.25,514.72 L152.00,514.60 L151.75,514.48 L151.50,514.37 L151.25,514.24 L151.00,514.12 L150.75,514.00 L150.50,513.87 L150.25,513.75 L150.00,513.62 L149.75,513.49 L149.50,513.36 L149.25,513.22 L149.00,513.09 L148.75,512.95 L148.50,512.81 L148.25,512.67 L148.00,512.53 L147.75,512.38 L147.50,512.23 L147.25,512.09 L147.00,511.94 L146.75,511.78 L146.50,511.63 L146.25,511.47 L146.00,511.31 L145.75,511.15 L145.50,510.99 L145.25,510.82 L145.00,510.65 L144.75,510.48 L144.50,510.31 L144.25,510.13 L144.00,509.96 L143.75,509.78 L143.50,509.59 L143.25,509.41 L143.00,509.22 L142.75,509.03 L142.50,508.83 L142.25,508.64 L142.00,508.44 L141.75,508.23 L141.50,508.03 L141.25,507.82 L141.00,507.61 L140.75,507.39 L140.50,507.17 L140.25,506.95 L140.00,506.73 L139.75,506.50 L139.50,506.27 L139.25,506.03 L139.00,505.79 L138.75,505.55 L138.50,505.30 L138.25,505.05 L138.00,504.79 L137.75,504.53 L137.50,504.27 L137.25,504.00 L137.00,503.73 L136.75,503.46 L136.50,503.18 L136.25,502.89 L136.00,502.60 L135.75,502.31 L135.50,502.01 L135.25,501.71 L135.00,501.40 L134.75,501.09 L134.50,500.77 L134.25,500.44 L134.00,500.11 L133.75,499.78 L133.50,499.44 L133.25,499.09 L133.00,498.74 L132.75,498.38 L132.50,498.02 L132.25,497.65 L132.00,494.12 L131.75,493.66 L131.50,497.40 L131.25,507.94 L131.00,506.99 L130.75,510.76 L130.50,512.19 L130.25,511.95 L130.00,511.70 L129.75,511.45 L129.50,511.19 L129.25,510.93 L129.00,510.65 L128.75,510.37 L128.50,510.08 L128.25,509.78 L128.00,509.48 L127.75,509.16 L127.50,508.84 L127.25,508.51 L127.00,508.18 L126.75,507.83 L126.50,507.48 L126.25,507.11 L126.00,506.74 L125.75,506.36 L125.50,505.98 L125.25,505.58 L125.00,505.18 L124.75,504.76 L124.50,504.34 L124.25,503.91 L124.00,503.47 L123.75,503.03 L123.50,502.57 L123.25,502.11 L123.00,501.64 L122.75,501.16 L122.50,500.67 L122.25,500.17 L122.00,499.66 L121.75,499.15 L121.50,498.63 L121.25,498.09 L121.00,497.55 L120.75,497.00 L120.50,496.44 L120.25,495.76 L120.00,495.04 L119.75,494.31 L119.50,493.56 L119.25,492.80 L119.00,492.03 L118.75,491.25 L118.50,490.45 L118.25,489.63 L118.00,488.81 L117.75,487.96 L117.50,487.10 L117.25,486.23 L117.00,485.33 L116.75,484.43 L116.50,483.50 L116.25,482.56 L116.00,481.60 L115.75,480.62 L115.50,479.54 L115.25,478.53 L115.00,477.50 L114.75,476.45 L114.50,469.39 L115.10,524.20 L102.60,524.20Z" fill="#f21d1d" stroke="#f21d1d" stroke-width="0.6" stroke-linejoin="round"/>
<path d="M102.60,522.00 L102.85,522.00 L103.10,522.00 L103.35,522.00 L103.60,522.00 L103.85,522.00 L104.10,522.00 L104.35,522.00 L104.60,522.00 L104.85,522.00 L105.10,522.00 L105.35,522.00 L105.60,522.00 L105.85,522.00 L106.10,522.00 L106.35,522.00 L106.60,522.00 L106.85,522.00 L107.10,522.00 L107.35,522.00 L107.60,522.00 L107.85,522.00 L108.10,522.00 L108.35,522.00 L108.60,522.00 L108.85,522.00 L109.10,522.00 L109.35,522.00 L109.60,522.00 L109.85,522.00 L110.10,522.00 L110.35,522.00 L110.60,522.00 L110.85,522.00 L111.10,522.00 L111.35,522.00 L111.60,522.00 L111.85,522.00 L112.10,522.00 L112.35,522.00 L112.60,522.00 L112.85,522.00 L113.10,522.00 L113.35,522.00 L113.60,522.00 L113.85,506.56 L114.10,491.11 L114.35,475.67 L114.60,466.83 L114.85,467.90 L115.10,468.95 L115.35,469.97 L115.60,470.98 L115.85,471.97 L116.10,472.93 L116.35,473.88 L116.60,474.81 L116.85,475.73 L117.10,476.62 L117.35,477.50 L117.60,478.36 L117.85,479.21 L118.10,480.03 L118.35,480.85 L118.60,481.64 L118.85,482.42 L119.10,483.19 L119.35,483.94 L119.60,484.68 L119.85,485.40 L120.10,486.11 L120.35,486.80 L120.60,487.48 L120.85,488.15 L121.10,488.80 L121.35,489.45 L121.60,490.08 L121.85,490.69 L122.10,491.30 L122.35,491.89 L122.60,492.48 L122.85,493.05 L123.10,493.61 L123.35,494.16 L123.60,494.69 L123.85,495.22 L124.10,495.74 L124.35,496.25 L124.60,496.75 L124.85,497.24 L125.10,497.71 L125.35,498.18 L125.60,498.64 L125.85,499.10 L126.10,499.54 L126.35,499.97 L126.60,500.40 L126.85,500.82 L127.10,501.23 L127.35,501.63 L127.60,502.02 L127.85,502.41 L128.10,502.79 L128.35,503.16 L128.60,503.53 L128.85,503.88 L129.10,504.23 L129.35,504.58 L129.60,504.91 L129.85,505.24 L130.10,505.57 L130.35,505.89 L130.60,506.20 L130.85,505.49 L131.10,500.70 L131.35,495.91 L131.60,491.12 L131.85,489.48 L132.10,489.95 L132.35,490.41 L132.60,490.86 L132.85,491.30 L133.10,491.74 L133.35,492.17 L133.60,492.59 L133.85,493.01 L134.10,493.42 L134.35,493.83 L134.60,494.22 L134.85,494.61 L135.10,495.00 L135.35,495.38 L135.60,495.75 L135.85,496.12 L136.10,496.48 L136.35,496.84 L136.60,497.19 L136.85,497.54 L137.10,497.88 L137.35,498.21 L137.60,498.54 L137.85,498.87 L138.10,499.19 L138.35,499.51 L138.60,499.82 L138.85,500.12 L139.10,500.42 L139.35,500.72 L139.60,501.01 L139.85,501.30 L140.10,501.58 L140.35,501.86 L140.60,502.14 L140.85,502.41 L141.10,502.67 L141.35,502.94 L141.60,503.20 L141.85,503.45 L142.10,503.70 L142.35,503.95 L142.60,504.19 L142.85,504.43 L143.10,504.67 L143.35,504.90 L143.60,505.13 L143.85,505.36 L144.10,505.58 L144.35,505.80 L144.60,506.02 L144.85,506.23 L145.10,506.44 L145.35,506.65 L145.60,506.85 L145.85,507.05 L146.10,507.25 L146.35,507.45 L146.60,507.64 L146.85,507.83 L147.10,508.01 L147.35,508.20 L147.60,508.38 L147.85,508.56 L148.10,508.73 L148.35,508.91 L148.60,509.08 L148.85,509.25 L149.10,509.41 L149.35,509.58 L149.60,509.74 L149.85,509.90 L150.10,510.06 L150.35,510.21 L150.60,510.36 L150.85,510.51 L151.10,510.66 L151.35,510.81 L151.60,510.95 L151.85,511.09 L152.10,511.23 L152.35,511.37 L152.60,511.51 L152.85,511.64 L153.10,511.77 L153.35,511.90 L153.60,512.03 L153.85,512.16 L154.10,512.28 L154.35,512.41 L154.60,512.53 L154.85,512.65 L155.10,512.77 L155.35,512.88 L155.60,513.00 L155.85,513.11 L156.10,513.22 L156.35,513.34 L156.60,513.44 L156.85,513.55 L157.10,513.66 L157.35,513.76 L157.60,513.86 L157.85,513.97 L158.10,514.07 L158.35,514.16 L158.60,514.26 L158.85,514.36 L159.10,514.45 L159.35,514.55 L159.60,514.64 L159.85,514.73 L160.10,514.82 L160.35,514.91 L160.60,515.00 L160.85,515.08 L161.10,515.17 L161.35,515.25 L161.60,515.33 L161.85,515.42 L162.10,515.50 L162.35,515.58 L162.60,515.65 L162.85,515.73 L163.10,515.81 L163.35,515.88 L163.60,515.96 L163.85,516.03 L164.10,516.10 L164.35,516.17 L164.60,516.24 L164.85,516.31 L165.10,516.38 L165.35,516.45 L165.60,516.52 L165.85,516.58 L166.10,516.65 L166.35,516.71 L166.60,516.78 L166.85,516.84 L167.10,516.90 L167.35,516.96 L167.60,517.02 L167.85,517.08 L168.10,517.14 L168.35,517.20 L168.60,517.26 L168.85,517.31 L169.10,517.37 L169.35,517.42 L169.60,517.48 L169.85,517.53 L170.10,517.58 L170.35,517.64 L170.60,517.69 L170.85,517.74 L171.10,517.79 L171.35,517.84 L171.60,517.89 L171.85,517.94 L172.10,517.98 L172.35,518.03 L172.60,518.08 L172.85,518.12 L173.10,518.17 L173.35,518.21 L173.60,518.26 L173.85,518.30 L174.10,518.34 L174.35,518.39 L174.60,518.43 L174.85,518.47 L175.10,518.51 L175.35,518.55 L175.60,518.59 L175.85,518.63 L176.10,518.67 L176.35,518.71 L176.60,518.75 L176.85,518.79 L177.10,518.82 L177.35,518.86 L177.60,518.90 L177.85,518.93 L178.10,518.97 L178.35,519.00 L178.60,519.04 L178.85,519.07 L179.10,519.10 L179.35,519.14 L179.60,519.17 L179.85,519.20 L180.10,519.23 L180.35,519.27 L180.60,519.30 L180.85,519.33 L181.10,519.36 L181.35,519.39" fill="none" stroke="#111" stroke-width="1.9" stroke-linejoin="round"/>
<text x="237.7" y="275.2" font-size="16" font-weight="bold" textLength="21.5" lengthAdjust="spacingAndGlyphs"><tspan font-size="17" font-weight="normal" stroke="#000" stroke-width="0.5">(</tspan>D<tspan font-size="17" font-weight="normal" stroke="#000" stroke-width="0.5">)</tspan></text>
<rect x="323" y="303.3" width="151.8" height="229" fill="#b2f0f8"/>
<line x1="266.8" y1="303.5" x2="266.8" y2="533.2" stroke="#111" stroke-width="2"/>
<line x1="265.8" y1="532.2" x2="476" y2="532.2" stroke="#111" stroke-width="2"/>
<line x1="257.5" y1="532.2" x2="266.8" y2="532.2" stroke="#111" stroke-width="2"/>
<text x="254.4" y="537.3" font-size="15.3" text-anchor="end" fill="#111" stroke="#111" stroke-width="0.22" textLength="17.0" lengthAdjust="spacingAndGlyphs">40</text>
<line x1="257.5" y1="486.8" x2="266.8" y2="486.8" stroke="#111" stroke-width="2"/>
<text x="254.4" y="491.9" font-size="15.3" text-anchor="end" fill="#111" stroke="#111" stroke-width="0.22" textLength="17.0" lengthAdjust="spacingAndGlyphs">60</text>
<line x1="257.5" y1="441.4" x2="266.8" y2="441.4" stroke="#111" stroke-width="2"/>
<text x="254.4" y="446.5" font-size="15.3" text-anchor="end" fill="#111" stroke="#111" stroke-width="0.22" textLength="17.0" lengthAdjust="spacingAndGlyphs">80</text>
<line x1="257.5" y1="396.1" x2="266.8" y2="396.1" stroke="#111" stroke-width="2"/>
<text x="254.4" y="401.2" font-size="15.3" text-anchor="end" fill="#111" stroke="#111" stroke-width="0.22" textLength="25.6" lengthAdjust="spacingAndGlyphs">100</text>
<line x1="257.5" y1="350.7" x2="266.8" y2="350.7" stroke="#111" stroke-width="2"/>
<text x="254.4" y="355.8" font-size="15.3" text-anchor="end" fill="#111" stroke="#111" stroke-width="0.22" textLength="25.6" lengthAdjust="spacingAndGlyphs">120</text>
<line x1="257.5" y1="305.3" x2="266.8" y2="305.3" stroke="#111" stroke-width="2"/>
<text x="254.4" y="310.4" font-size="15.3" text-anchor="end" fill="#111" stroke="#111" stroke-width="0.22" textLength="25.6" lengthAdjust="spacingAndGlyphs">140</text>
<line x1="284.7" y1="532.2" x2="284.7" y2="541" stroke="#111" stroke-width="2"/>
<text x="282.1" y="558.3" font-size="16" text-anchor="middle" fill="#111" stroke="#111" stroke-width="0.22" textLength="21.8" lengthAdjust="spacingAndGlyphs">-10</text>
<line x1="322.8" y1="532.2" x2="322.8" y2="541" stroke="#111" stroke-width="2"/>
<text x="322.8" y="558.3" font-size="16" text-anchor="middle" fill="#111" stroke="#111" stroke-width="0.22" textLength="8.2" lengthAdjust="spacingAndGlyphs">0</text>
<line x1="360.9" y1="532.2" x2="360.9" y2="541" stroke="#111" stroke-width="2"/>
<text x="360.9" y="558.3" font-size="16" text-anchor="middle" fill="#111" stroke="#111" stroke-width="0.22" textLength="16.6" lengthAdjust="spacingAndGlyphs">10</text>
<line x1="399.0" y1="532.2" x2="399.0" y2="541" stroke="#111" stroke-width="2"/>
<text x="399.0" y="558.3" font-size="16" text-anchor="middle" fill="#111" stroke="#111" stroke-width="0.22" textLength="16.6" lengthAdjust="spacingAndGlyphs">20</text>
<line x1="437.1" y1="532.2" x2="437.1" y2="541" stroke="#111" stroke-width="2"/>
<text x="437.1" y="558.3" font-size="16" text-anchor="middle" fill="#111" stroke="#111" stroke-width="0.22" textLength="16.6" lengthAdjust="spacingAndGlyphs">30</text>
<line x1="475.2" y1="532.2" x2="475.2" y2="541" stroke="#111" stroke-width="2"/>
<text x="475.2" y="558.3" font-size="16" text-anchor="middle" fill="#111" stroke="#111" stroke-width="0.22" textLength="16.6" lengthAdjust="spacingAndGlyphs">40</text>
<text x="343.1" y="584.7" font-size="15.3" fill="#111" stroke="#111" stroke-width="0.22" textLength="74.5" lengthAdjust="spacingAndGlyphs">Time (min)</text>
<text transform="translate(215.3,490.6) rotate(-90)" font-size="15.5" fill="#111" stroke="#111" stroke-width="0.22" textLength="145.5" lengthAdjust="spacingAndGlyphs">eIPSCs (% baseline)</text>
<text x="329.5" y="318.2" font-size="14.6" fill="#111" stroke="#111" stroke-width="0.22" xml:space="preserve" textLength="102.3" lengthAdjust="spacingAndGlyphs">D x T:  p&lt;0.0001</text>
<text x="329.5" y="337.1" font-size="14.6" fill="#111" stroke="#111" stroke-width="0.22" xml:space="preserve" textLength="73.7" lengthAdjust="spacingAndGlyphs">D:  p=0.004</text>
<text x="329.5" y="356.5" font-size="14.6" fill="#111" stroke="#111" stroke-width="0.22" xml:space="preserve" textLength="62.1" lengthAdjust="spacingAndGlyphs">T:  p&lt;0.01</text>
<line x1="268.6" y1="396.4" x2="476" y2="396.4" stroke="#111" stroke-width="2.2" stroke-dasharray="2.2,4.2"/>
<polyline points="284.7,394.1 303.8,401.5 322.8,397.3 341.9,406.3 360.9,410.2 379.9,424.0 399.0,439.8 418.1,439.8 437.1,448.1 456.1,444.0 475.2,444.0" fill="none" stroke="#111" stroke-width="1.3"/>
<path d="M284.7,389.6 V398.6 M281.2,389.6 H288.2 M281.2,398.6 H288.2" stroke="#111" stroke-width="1.3" fill="none"/>
<path d="M303.8,398.5 V404.5 M300.2,398.5 H307.2 M300.2,404.5 H307.2" stroke="#111" stroke-width="1.3" fill="none"/>
<path d="M322.8,392.3 V402.3 M319.3,392.3 H326.3 M319.3,402.3 H326.3" stroke="#111" stroke-width="1.3" fill="none"/>
<path d="M341.9,399.8 V412.8 M338.4,399.8 H345.4 M338.4,412.8 H345.4" stroke="#111" stroke-width="1.3" fill="none"/>
<path d="M360.9,402.2 V418.2 M357.4,402.2 H364.4 M357.4,418.2 H364.4" stroke="#111" stroke-width="1.3" fill="none"/>
<path d="M379.9,414.0 V434.0 M376.4,414.0 H383.4 M376.4,434.0 H383.4" stroke="#111" stroke-width="1.3" fill="none"/>
<path d="M399.0,426.3 V453.3 M395.5,426.3 H402.5 M395.5,453.3 H402.5" stroke="#111" stroke-width="1.3" fill="none"/>
<path d="M418.1,426.8 V452.8 M414.6,426.8 H421.6 M414.6,452.8 H421.6" stroke="#111" stroke-width="1.3" fill="none"/>
<path d="M437.1,435.1 V461.1 M433.6,435.1 H440.6 M433.6,461.1 H440.6" stroke="#111" stroke-width="1.3" fill="none"/>
<path d="M456.1,431.0 V457.0 M452.6,431.0 H459.6 M452.6,457.0 H459.6" stroke="#111" stroke-width="1.3" fill="none"/>
<path d="M475.2,429.5 V458.5 M471.7,429.5 H478.7 M471.7,458.5 H478.7" stroke="#111" stroke-width="1.3" fill="none"/>
<circle cx="284.7" cy="394.1" r="3.5" fill="#f51a0e" stroke="#222" stroke-width="0.9"/>
<circle cx="303.8" cy="401.5" r="3.5" fill="#f51a0e" stroke="#222" stroke-width="0.9"/>
<circle cx="322.8" cy="397.3" r="3.5" fill="#f51a0e" stroke="#222" stroke-width="0.9"/>
<circle cx="341.9" cy="406.3" r="3.5" fill="#f51a0e" stroke="#222" stroke-width="0.9"/>
<circle cx="360.9" cy="410.2" r="3.5" fill="#f51a0e" stroke="#222" stroke-width="0.9"/>
<circle cx="379.9" cy="424.0" r="3.5" fill="#f51a0e" stroke="#222" stroke-width="0.9"/>
<circle cx="399.0" cy="439.8" r="3.5" fill="#f51a0e" stroke="#222" stroke-width="0.9"/>
<circle cx="418.1" cy="439.8" r="3.5" fill="#f51a0e" stroke="#222" stroke-width="0.9"/>
<circle cx="437.1" cy="448.1" r="3.5" fill="#f51a0e" stroke="#222" stroke-width="0.9"/>
<circle cx="456.1" cy="444.0" r="3.5" fill="#f51a0e" stroke="#222" stroke-width="0.9"/>
<circle cx="475.2" cy="444.0" r="3.5" fill="#f51a0e" stroke="#222" stroke-width="0.9"/>
<polyline points="284.7,394.1 303.8,401.5 322.8,402.1 341.9,393.5 360.9,393.5 379.9,389.3 399.0,391.5 418.1,399.9 437.1,396.4 456.1,396.4 475.2,396.4" fill="none" stroke="#111" stroke-width="1.3"/>
<path d="M284.7,389.6 V398.6 M281.2,389.6 H288.2 M281.2,398.6 H288.2" stroke="#111" stroke-width="1.3" fill="none"/>
<path d="M303.8,398.5 V404.5 M300.2,398.5 H307.2 M300.2,404.5 H307.2" stroke="#111" stroke-width="1.3" fill="none"/>
<path d="M322.8,396.1 V408.1 M319.3,396.1 H326.3 M319.3,408.1 H326.3" stroke="#111" stroke-width="1.3" fill="none"/>
<path d="M341.9,389.5 V397.5 M338.4,389.5 H345.4 M338.4,397.5 H345.4" stroke="#111" stroke-width="1.3" fill="none"/>
<path d="M360.9,388.5 V398.5 M357.4,388.5 H364.4 M357.4,398.5 H364.4" stroke="#111" stroke-width="1.3" fill="none"/>
<path d="M379.9,381.3 V397.3 M376.4,381.3 H383.4 M376.4,397.3 H383.4" stroke="#111" stroke-width="1.3" fill="none"/>
<path d="M399.0,385.0 V398.0 M395.5,385.0 H402.5 M395.5,398.0 H402.5" stroke="#111" stroke-width="1.3" fill="none"/>
<path d="M418.1,392.4 V407.4 M414.6,392.4 H421.6 M414.6,407.4 H421.6" stroke="#111" stroke-width="1.3" fill="none"/>
<path d="M437.1,388.4 V404.4 M433.6,388.4 H440.6 M433.6,404.4 H440.6" stroke="#111" stroke-width="1.3" fill="none"/>
<path d="M456.1,386.4 V406.4 M452.6,386.4 H459.6 M452.6,406.4 H459.6" stroke="#111" stroke-width="1.3" fill="none"/>
<path d="M475.2,387.4 V405.4 M471.7,387.4 H478.7 M471.7,405.4 H478.7" stroke="#111" stroke-width="1.3" fill="none"/>
<circle cx="284.7" cy="394.1" r="3.5" fill="#64a6ee" stroke="#222" stroke-width="0.9"/>
<circle cx="303.8" cy="401.5" r="3.5" fill="#64a6ee" stroke="#222" stroke-width="0.9"/>
<circle cx="322.8" cy="402.1" r="3.5" fill="#64a6ee" stroke="#222" stroke-width="0.9"/>
<circle cx="341.9" cy="393.5" r="3.5" fill="#64a6ee" stroke="#222" stroke-width="0.9"/>
<circle cx="360.9" cy="393.5" r="3.5" fill="#64a6ee" stroke="#222" stroke-width="0.9"/>
<circle cx="379.9" cy="389.3" r="3.5" fill="#64a6ee" stroke="#222" stroke-width="0.9"/>
<circle cx="399.0" cy="391.5" r="3.5" fill="#64a6ee" stroke="#222" stroke-width="0.9"/>
<circle cx="418.1" cy="399.9" r="3.5" fill="#64a6ee" stroke="#222" stroke-width="0.9"/>
<circle cx="437.1" cy="396.4" r="3.5" fill="#64a6ee" stroke="#222" stroke-width="0.9"/>
<circle cx="456.1" cy="396.4" r="3.5" fill="#64a6ee" stroke="#222" stroke-width="0.9"/>
<circle cx="475.2" cy="396.4" r="3.5" fill="#64a6ee" stroke="#222" stroke-width="0.9"/>
<g stroke="#111" stroke-width="1.7" stroke-linecap="butt"><line x1="437.9" y1="417" x2="437.9" y2="425.7"/><line x1="434" y1="419.1" x2="441.8" y2="423.5"/><line x1="434" y1="423.5" x2="441.8" y2="419.1"/></g>
<line x1="301.6" y1="485.6" x2="325" y2="485.6" stroke="#111" stroke-width="1.3"/>
<circle cx="313.5" cy="485.6" r="3.3" fill="#64a6ee" stroke="#222" stroke-width="0.9"/>
<text x="338.2" y="490.3" font-size="14.6" fill="#111" stroke="#111" stroke-width="0.22" textLength="77" lengthAdjust="spacingAndGlyphs">VEH (n=11)</text>
<line x1="301.6" y1="508.9" x2="325" y2="508.9" stroke="#111" stroke-width="1.3"/>
<circle cx="313.5" cy="508.9" r="3.3" fill="#f51a0e" stroke="#222" stroke-width="0.9"/>
<text x="337.1" y="513.4" font-size="14.6" fill="#111" stroke="#111" stroke-width="0.22" textLength="114" lengthAdjust="spacingAndGlyphs">GPR52-IA (n=11)</text>
<text x="524" y="275.2" font-size="16" font-weight="bold" textLength="19.3" lengthAdjust="spacingAndGlyphs"><tspan font-size="17" font-weight="normal" stroke="#000" stroke-width="0.5">(</tspan>E<tspan font-size="17" font-weight="normal" stroke="#000" stroke-width="0.5">)</tspan></text>
<line x1="554" y1="307.5" x2="554" y2="531.5" stroke="#111" stroke-width="2"/>
<line x1="553" y1="530.5" x2="685" y2="530.5" stroke="#111" stroke-width="2"/>
<line x1="545.4" y1="530.5" x2="554" y2="530.5" stroke="#111" stroke-width="2"/>
<text x="543.3" y="535.9" font-size="15.6" text-anchor="end" fill="#111" stroke="#111" stroke-width="0.22" textLength="16.2" lengthAdjust="spacingAndGlyphs">40</text>
<line x1="545.4" y1="486.2" x2="554" y2="486.2" stroke="#111" stroke-width="2"/>
<text x="543.3" y="491.6" font-size="15.6" text-anchor="end" fill="#111" stroke="#111" stroke-width="0.22" textLength="16.2" lengthAdjust="spacingAndGlyphs">60</text>
<line x1="545.4" y1="441.9" x2="554" y2="441.9" stroke="#111" stroke-width="2"/>
<text x="543.3" y="447.3" font-size="15.6" text-anchor="end" fill="#111" stroke="#111" stroke-width="0.22" textLength="16.2" lengthAdjust="spacingAndGlyphs">80</text>
<line x1="545.4" y1="397.6" x2="554" y2="397.6" stroke="#111" stroke-width="2"/>
<text x="543.3" y="403.0" font-size="15.6" text-anchor="end" fill="#111" stroke="#111" stroke-width="0.22" textLength="24.2" lengthAdjust="spacingAndGlyphs">100</text>
<line x1="545.4" y1="353.3" x2="554" y2="353.3" stroke="#111" stroke-width="2"/>
<text x="543.3" y="358.7" font-size="15.6" text-anchor="end" fill="#111" stroke="#111" stroke-width="0.22" textLength="24.2" lengthAdjust="spacingAndGlyphs">120</text>
<line x1="545.4" y1="309.0" x2="554" y2="309.0" stroke="#111" stroke-width="2"/>
<text x="543.3" y="314.4" font-size="15.6" text-anchor="end" fill="#111" stroke="#111" stroke-width="0.22" textLength="24.2" lengthAdjust="spacingAndGlyphs">140</text>
<line x1="590.7" y1="530.5" x2="590.7" y2="540" stroke="#111" stroke-width="2"/>
<line x1="646.0" y1="530.5" x2="646.0" y2="540" stroke="#111" stroke-width="2"/>
<text x="576.4" y="555.6" font-size="14.5" fill="#111" stroke="#111" stroke-width="0.22" textLength="27.1" lengthAdjust="spacingAndGlyphs">VEH</text>
<text x="614" y="555.6" font-size="14.5" fill="#111" stroke="#111" stroke-width="0.22" textLength="62.6" lengthAdjust="spacingAndGlyphs">GPR52-IA</text>
<text transform="translate(507.3,483.7) rotate(-90)" font-size="15.6" fill="#111" stroke="#111" stroke-width="0.22" textLength="128.8" lengthAdjust="spacingAndGlyphs">AUC (0 to 40 min)</text>
<circle cx="590.5" cy="370.8" r="3.3" fill="#64a6ee" stroke="#222" stroke-width="0.9"/>
<circle cx="578.1" cy="379.2" r="3.3" fill="#64a6ee" stroke="#222" stroke-width="0.9"/>
<circle cx="590.5" cy="382.9" r="3.3" fill="#64a6ee" stroke="#222" stroke-width="0.9"/>
<circle cx="602.7" cy="380.9" r="3.3" fill="#64a6ee" stroke="#222" stroke-width="0.9"/>
<circle cx="578.1" cy="395.8" r="3.3" fill="#64a6ee" stroke="#222" stroke-width="0.9"/>
<circle cx="590.5" cy="398.2" r="3.3" fill="#64a6ee" stroke="#222" stroke-width="0.9"/>
<circle cx="578.1" cy="404.7" r="3.3" fill="#64a6ee" stroke="#222" stroke-width="0.9"/>
<circle cx="590.5" cy="410.0" r="3.3" fill="#64a6ee" stroke="#222" stroke-width="0.9"/>
<circle cx="602.7" cy="408.5" r="3.3" fill="#64a6ee" stroke="#222" stroke-width="0.9"/>
<circle cx="596.7" cy="416.9" r="3.3" fill="#64a6ee" stroke="#222" stroke-width="0.9"/>
<circle cx="584.2" cy="423.0" r="3.3" fill="#64a6ee" stroke="#222" stroke-width="0.9"/>
<circle cx="645.2" cy="378.3" r="3.3" fill="#f51a0e" stroke="#222" stroke-width="0.9"/>
<circle cx="645.2" cy="389.5" r="3.3" fill="#f51a0e" stroke="#222" stroke-width="0.9"/>
<circle cx="640.1" cy="414.1" r="3.3" fill="#f51a0e" stroke="#222" stroke-width="0.9"/>
<circle cx="650.8" cy="415.2" r="3.3" fill="#f51a0e" stroke="#222" stroke-width="0.9"/>
<circle cx="640.1" cy="420.6" r="3.3" fill="#f51a0e" stroke="#222" stroke-width="0.9"/>
<circle cx="650.8" cy="434.2" r="3.3" fill="#f51a0e" stroke="#222" stroke-width="0.9"/>
<circle cx="640.1" cy="440.5" r="3.3" fill="#f51a0e" stroke="#222" stroke-width="0.9"/>
<circle cx="640.1" cy="451.7" r="3.3" fill="#f51a0e" stroke="#222" stroke-width="0.9"/>
<circle cx="630.3" cy="457.5" r="3.3" fill="#f51a0e" stroke="#222" stroke-width="0.9"/>
<circle cx="650.4" cy="457.3" r="3.3" fill="#f51a0e" stroke="#222" stroke-width="0.9"/>
<circle cx="660.6" cy="456.0" r="3.3" fill="#f51a0e" stroke="#222" stroke-width="0.9"/>
<path d="M572,397.3 H609 M590.5,392.3 V402.5 M581.4,392.3 H599.5 M581.4,402.5 H599.5" stroke="#111" stroke-width="1.2" fill="none"/>
<line x1="572" y1="397.3" x2="609" y2="397.3" stroke="#111" stroke-width="2.4"/>
<path d="M645.5,420.2 V436.8 M636.4,420.2 H655 M636.4,436.8 H655" stroke="#111" stroke-width="1.2" fill="none"/>
<line x1="627" y1="428.6" x2="664" y2="428.6" stroke="#111" stroke-width="2.4"/>
<path d="M643.40,355.60 L643.40,352.60 M643.40,355.60 L646.25,354.67 M643.40,355.60 L645.16,358.03 M643.40,355.60 L641.64,358.03 M643.40,355.60 L640.55,354.67 M650.40,355.60 L650.40,352.60 M650.40,355.60 L653.25,354.67 M650.40,355.60 L652.16,358.03 M650.40,355.60 L648.64,358.03 M650.40,355.60 L647.55,354.67 " stroke="#111" stroke-width="1.5" fill="none"/>
</svg></body></html>
